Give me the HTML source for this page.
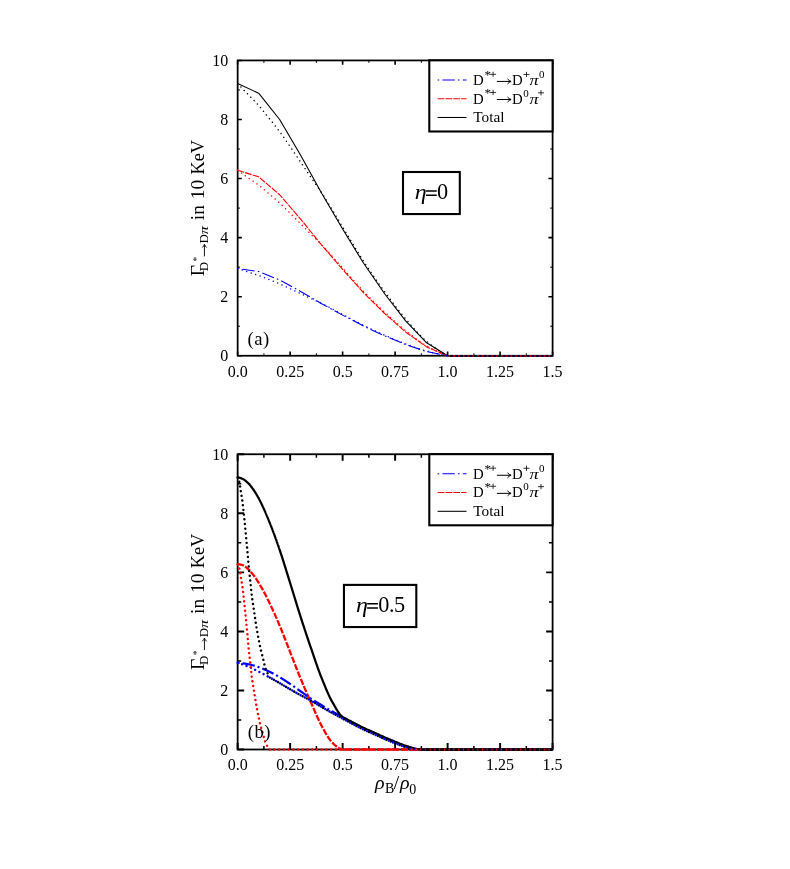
<!DOCTYPE html>
<html><head><meta charset="utf-8"><title>Decay widths</title>
<style>html,body{margin:0;padding:0;background:#fff;}svg{display:block;}text{font-family:'Liberation Serif', serif;fill:#000;}</style></head><body>
<div style="will-change:transform;width:790px;height:869px">
<svg width="790" height="869" viewBox="0 0 790 869">
<rect width="790" height="869" fill="#fff"/>
<path d="M237.65,355.75 v-4.2 M237.65,60.43 v4.2 M290.14,355.75 v-4.2 M290.14,60.43 v4.2 M342.63,355.75 v-4.2 M342.63,60.43 v4.2 M395.12,355.75 v-4.2 M395.12,60.43 v4.2 M447.62,355.75 v-4.2 M447.62,60.43 v4.2 M500.11,355.75 v-4.2 M500.11,60.43 v4.2 M552.6,355.75 v-4.2 M552.6,60.43 v4.2 M237.65,355.75 h4.2 M552.6,355.75 h-4.2 M237.65,296.69 h4.2 M552.6,296.69 h-4.2 M237.65,237.62 h4.2 M552.6,237.62 h-4.2 M237.65,178.56 h4.2 M552.6,178.56 h-4.2 M237.65,119.49 h4.2 M552.6,119.49 h-4.2 M237.65,60.43 h4.2 M552.6,60.43 h-4.2" stroke="#000" stroke-width="1.6" fill="none"/>
<path d="M263.9,355.75 v-2.4 M263.9,60.43 v2.4 M316.39,355.75 v-2.4 M316.39,60.43 v2.4 M368.88,355.75 v-2.4 M368.88,60.43 v2.4 M421.37,355.75 v-2.4 M421.37,60.43 v2.4 M473.86,355.75 v-2.4 M473.86,60.43 v2.4 M526.35,355.75 v-2.4 M526.35,60.43 v2.4 M237.65,326.22 h2.4 M552.6,326.22 h-2.4 M237.65,267.15 h2.4 M552.6,267.15 h-2.4 M237.65,208.09 h2.4 M552.6,208.09 h-2.4 M237.65,149.03 h2.4 M552.6,149.03 h-2.4 M237.65,89.96 h2.4 M552.6,89.96 h-2.4" stroke="#000" stroke-width="1.0" fill="none"/>
<rect x="237.65" y="60.43" width="314.95" height="295.32" fill="none" stroke="#000" stroke-width="1.75"/>
<g fill="none" stroke-width="1.1" stroke-linejoin="round">
<path d="M237.65,170.29 L258.65,176.83 L279.64,194.74 L300.64,219.09 L321.64,245.06 L342.63,269.41 L363.63,292.76 L384.63,313.49 L405.62,332 L426.62,346.89 L447.62,355.75 L552.6,355.75" stroke="#f00" stroke-dasharray="6.75 1.1"/>
<path d="M237.65,268.48 L258.65,271.55 L279.64,279.98 L300.64,291.44 L321.64,303.66 L342.63,315.12 L363.63,326.11 L384.63,335.86 L405.62,344.57 L426.62,351.58 L447.62,355.75 L552.6,355.75" stroke="#00f" stroke-dasharray="1.6 3.2 12.4 3.2"/>
<path d="M237.65,83.61 L258.65,93.21 L279.64,119.49 L300.64,155.23 L321.64,193.32 L342.63,229.06 L363.63,263.31 L384.63,293.73 L405.62,320.9 L426.62,342.76 L447.62,355.75 L552.6,355.75" stroke="#000"/>
<path d="M237.65,83.61 L238.18,84.16 L238.7,84.71 L239.23,85.26 L239.75,85.8 L240.28,86.35 L240.81,86.9 L241.33,87.45 L241.86,87.99 L242.39,88.54 L242.91,89.09 L243.44,89.64 L243.96,90.19 L244.49,90.73 L245.02,91.28 L245.54,91.83 L246.07,92.38 L246.6,92.92 L247.12,93.47 L247.65,94.02 L248.17,94.57 L248.7,95.11 L249.23,95.65 L249.75,96.19 L250.28,96.73 L250.81,97.26 L251.33,97.8 L251.86,98.33 L252.38,98.86 L252.91,99.4 L253.44,99.93 L253.96,100.47 L254.49,101.01 L255.02,101.56 L255.54,102.11 L256.07,102.66 L256.59,103.22 L257.12,103.78 L257.65,104.36 L258.17,104.94 L258.7,105.53 L259.23,106.12 L259.75,106.73 L260.28,107.34 L260.8,107.96 L261.33,108.59 L261.86,109.23 L262.38,109.87 L262.91,110.51 L263.44,111.16 L263.96,111.81 L264.49,112.47 L265.01,113.13 L265.54,113.79 L266.07,114.45 L266.59,115.11 L267.12,115.78 L267.65,116.44 L268.17,117.1 L268.7,117.76 L269.22,118.41 L269.75,119.06 L270.28,119.72 L270.8,120.37 L271.33,121.02 L271.86,121.67 L272.38,122.32 L272.91,122.97 L273.43,123.63 L273.96,124.28 L274.49,124.94 L275.01,125.6 L275.54,126.26 L276.06,126.93 L276.59,127.6 L277.12,128.28 L277.64,128.96 L278.17,129.65 L278.7,130.34 L279.22,131.04 L279.75,131.74 L280.27,132.46 L280.8,133.18 L281.33,133.91 L281.85,134.64 L282.38,135.39 L282.91,136.13 L283.43,136.89 L283.96,137.64 L284.48,138.4 L285.01,139.17 L285.54,139.94 L286.06,140.7 L286.59,141.47 L287.12,142.25 L287.64,143.02 L288.17,143.79 L288.69,144.56 L289.22,145.32 L289.75,146.09 L290.27,146.85 L290.8,147.62 L291.33,148.38 L291.85,149.14 L292.38,149.91 L292.9,150.68 L293.43,151.44 L293.96,152.21 L294.48,152.98 L295.01,153.75 L295.54,154.52 L296.06,155.29 L296.59,156.06 L297.11,156.83 L297.64,157.6 L298.17,158.38 L298.69,159.15 L299.22,159.92 L299.75,160.7 L300.27,161.48 L300.8,162.25 L301.32,163.03 L301.85,163.81 L302.38,164.6 L302.9,165.38 L303.43,166.17 L303.96,166.96 L304.48,167.75 L305.01,168.54 L305.53,169.33 L306.06,170.12 L306.59,170.91 L307.11,171.7 L307.64,172.49 L308.17,173.27 L308.69,174.06 L309.22,174.84 L309.74,175.62 L310.27,176.4 L310.8,177.17 L311.32,177.94 L311.85,178.7 L312.37,179.46 L312.9,180.21 L313.43,180.96 L313.95,181.71 L314.48,182.45 L315.01,183.19 L315.53,183.93 L316.06,184.67 L316.58,185.41 L317.11,186.15 L317.64,186.9 L318.16,187.65 L318.69,188.4 L319.22,189.16 L319.74,189.92 L320.27,190.69 L320.79,191.47 L321.32,192.26 L321.85,193.05 L322.37,193.86 L322.9,194.66 L323.43,195.48 L323.95,196.3 L324.48,197.12 L325,197.95 L325.53,198.79 L326.06,199.63 L326.58,200.47 L327.11,201.32 L327.64,202.17 L328.16,203.02 L328.69,203.88 L329.21,204.74 L329.74,205.6 L330.27,206.47 L330.79,207.34 L331.32,208.21 L331.85,209.08 L332.37,209.95 L332.9,210.83 L333.42,211.7 L333.95,212.58 L334.48,213.46 L335,214.34 L335.53,215.22 L336.06,216.09 L336.58,216.97 L337.11,217.85 L337.63,218.73 L338.16,219.61 L338.69,220.48 L339.21,221.36 L339.74,222.23 L340.27,223.1 L340.79,223.97 L341.32,224.84 L341.84,225.7 L342.37,226.56 L342.9,227.42 L343.42,228.28 L343.95,229.14 L344.48,230.01 L345,230.88 L345.53,231.75 L346.05,232.62 L346.58,233.49 L347.11,234.36 L347.63,235.23 L348.16,236.11 L348.69,236.98 L349.21,237.86 L349.74,238.74 L350.26,239.61 L350.79,240.49 L351.32,241.36 L351.84,242.24 L352.37,243.11 L352.89,243.98 L353.42,244.85 L353.95,245.72 L354.47,246.59 L355,247.46 L355.53,248.32 L356.05,249.18 L356.58,250.04 L357.1,250.9 L357.63,251.76 L358.16,252.61 L358.68,253.46 L359.21,254.3 L359.74,255.14 L360.26,255.98 L360.79,256.82 L361.31,257.65 L361.84,258.47 L362.37,259.3 L362.89,260.11 L363.42,260.92 L363.95,261.73 L364.47,262.54 L365,263.34 L365.52,264.14 L366.05,264.94 L366.58,265.73 L367.1,266.53 L367.63,267.32 L368.16,268.11 L368.68,268.89 L369.21,269.68 L369.73,270.46 L370.26,271.24 L370.79,272.01 L371.31,272.79 L371.84,273.56 L372.37,274.33 L372.89,275.1 L373.42,275.87 L373.94,276.63 L374.47,277.39 L375,278.15 L375.52,278.91 L376.05,279.66 L376.58,280.42 L377.1,281.17 L377.63,281.91 L378.15,282.66 L378.68,283.4 L379.21,284.15 L379.73,284.89 L380.26,285.62 L380.79,286.36 L381.31,287.09 L381.84,287.82 L382.36,288.55 L382.89,289.28 L383.42,290.01 L383.94,290.73 L384.47,291.45 L385,292.17 L385.52,292.89 L386.05,293.61 L386.57,294.32 L387.1,295.04 L387.63,295.75 L388.15,296.47 L388.68,297.18 L389.2,297.89 L389.73,298.6 L390.26,299.31 L390.78,300.01 L391.31,300.72 L391.84,301.42 L392.36,302.12 L392.89,302.82 L393.41,303.52 L393.94,304.21 L394.47,304.9 L394.99,305.59 L395.52,306.28 L396.05,306.96 L396.57,307.65 L397.1,308.32 L397.62,309 L398.15,309.67 L398.68,310.34 L399.2,311.01 L399.73,311.67 L400.26,312.33 L400.78,312.99 L401.31,313.64 L401.83,314.29 L402.36,314.93 L402.89,315.57 L403.41,316.21 L403.94,316.84 L404.47,317.47 L404.99,318.09 L405.52,318.71 L406.04,319.33 L406.57,319.94 L407.1,320.56 L407.62,321.18 L408.15,321.8 L408.68,322.41 L409.2,323.03 L409.73,323.64 L410.25,324.26 L410.78,324.87 L411.31,325.48 L411.83,326.08 L412.36,326.69 L412.89,327.29 L413.41,327.89 L413.94,328.49 L414.46,329.08 L414.99,329.67 L415.52,330.26 L416.04,330.84 L416.57,331.42 L417.1,331.99 L417.62,332.56 L418.15,333.13 L418.67,333.68 L419.2,334.24 L419.73,334.78 L420.25,335.32 L420.78,335.86 L421.31,336.38 L421.83,336.91 L422.36,337.42 L422.88,337.92 L423.41,338.42 L423.94,338.91 L424.46,339.39 L424.99,339.87 L425.51,340.33 L426.04,340.79 L426.57,341.24 L427.09,341.68 L427.62,342.11 L428.15,342.55 L428.67,342.98 L429.2,343.4 L429.72,343.83 L430.25,344.25 L430.78,344.67 L431.3,345.08 L431.83,345.49 L432.36,345.9 L432.88,346.3 L433.41,346.7 L433.93,347.1 L434.46,347.49 L434.99,347.88 L435.51,348.26 L436.04,348.64 L436.57,349.01 L437.09,349.39 L437.62,349.75 L438.14,350.11 L438.67,350.47 L439.2,350.82 L439.72,351.17 L440.25,351.51 L440.78,351.85 L441.3,352.18 L441.83,352.51 L442.35,352.83 L442.88,353.15 L443.41,353.46 L443.93,353.77 L444.46,354.07 L444.99,354.36 L445.51,354.65 L446.04,354.93 L446.56,355.21 L447.09,355.48 L447.62,355.75" stroke="#000" stroke-dasharray="0.01 4.72" stroke-linecap="round" stroke-width="1.45"/>
<path d="M237.65,268.48 L238.18,268.65 L238.7,268.83 L239.23,269 L239.75,269.18 L240.28,269.35 L240.81,269.53 L241.33,269.71 L241.86,269.88 L242.39,270.06 L242.91,270.23 L243.44,270.41 L243.96,270.58 L244.49,270.76 L245.02,270.93 L245.54,271.11 L246.07,271.29 L246.6,271.46 L247.12,271.64 L247.65,271.81 L248.17,271.99 L248.7,272.16 L249.23,272.34 L249.75,272.51 L250.28,272.68 L250.81,272.85 L251.33,273.02 L251.86,273.2 L252.38,273.37 L252.91,273.54 L253.44,273.71 L253.96,273.88 L254.49,274.06 L255.02,274.23 L255.54,274.41 L256.07,274.58 L256.59,274.76 L257.12,274.94 L257.65,275.13 L258.17,275.31 L258.7,275.5 L259.23,275.69 L259.75,275.89 L260.28,276.09 L260.8,276.29 L261.33,276.49 L261.86,276.69 L262.38,276.9 L262.91,277.1 L263.44,277.31 L263.96,277.52 L264.49,277.73 L265.01,277.94 L265.54,278.15 L266.07,278.37 L266.59,278.58 L267.12,278.79 L267.65,279 L268.17,279.21 L268.7,279.43 L269.22,279.64 L269.75,279.85 L270.28,280.05 L270.8,280.26 L271.33,280.47 L271.86,280.68 L272.38,280.89 L272.91,281.1 L273.43,281.31 L273.96,281.52 L274.49,281.73 L275.01,281.94 L275.54,282.15 L276.06,282.37 L276.59,282.58 L277.12,282.8 L277.64,283.02 L278.17,283.24 L278.7,283.46 L279.22,283.68 L279.75,283.91 L280.27,284.14 L280.8,284.37 L281.33,284.61 L281.85,284.84 L282.38,285.08 L282.91,285.32 L283.43,285.56 L283.96,285.8 L284.48,286.05 L285.01,286.29 L285.54,286.54 L286.06,286.78 L286.59,287.03 L287.12,287.28 L287.64,287.53 L288.17,287.77 L288.69,288.02 L289.22,288.27 L289.75,288.51 L290.27,288.76 L290.8,289 L291.33,289.25 L291.85,289.49 L292.38,289.74 L292.9,289.98 L293.43,290.23 L293.96,290.47 L294.48,290.72 L295.01,290.97 L295.54,291.21 L296.06,291.46 L296.59,291.71 L297.11,291.96 L297.64,292.2 L298.17,292.45 L298.69,292.7 L299.22,292.95 L299.75,293.2 L300.27,293.45 L300.8,293.7 L301.32,293.95 L301.85,294.2 L302.38,294.45 L302.9,294.7 L303.43,294.95 L303.96,295.21 L304.48,295.46 L305.01,295.71 L305.53,295.97 L306.06,296.22 L306.59,296.47 L307.11,296.73 L307.64,296.98 L308.17,297.23 L308.69,297.48 L309.22,297.73 L309.74,297.98 L310.27,298.23 L310.8,298.48 L311.32,298.73 L311.85,298.97 L312.37,299.21 L312.9,299.46 L313.43,299.7 L313.95,299.93 L314.48,300.17 L315.01,300.41 L315.53,300.65 L316.06,300.88 L316.58,301.12 L317.11,301.36 L317.64,301.6 L318.16,301.84 L318.69,302.08 L319.22,302.32 L319.74,302.57 L320.27,302.82 L320.79,303.07 L321.32,303.32 L321.85,303.57 L322.37,303.83 L322.9,304.09 L323.43,304.35 L323.95,304.61 L324.48,304.88 L325,305.14 L325.53,305.41 L326.06,305.68 L326.58,305.95 L327.11,306.22 L327.64,306.5 L328.16,306.77 L328.69,307.04 L329.21,307.32 L329.74,307.6 L330.27,307.88 L330.79,308.15 L331.32,308.43 L331.85,308.71 L332.37,308.99 L332.9,309.27 L333.42,309.55 L333.95,309.84 L334.48,310.12 L335,310.4 L335.53,310.68 L336.06,310.96 L336.58,311.24 L337.11,311.53 L337.63,311.81 L338.16,312.09 L338.69,312.37 L339.21,312.65 L339.74,312.93 L340.27,313.21 L340.79,313.49 L341.32,313.77 L341.84,314.04 L342.37,314.32 L342.9,314.59 L343.42,314.87 L343.95,315.15 L344.48,315.43 L345,315.7 L345.53,315.98 L346.05,316.26 L346.58,316.54 L347.11,316.82 L347.63,317.1 L348.16,317.38 L348.69,317.66 L349.21,317.94 L349.74,318.22 L350.26,318.5 L350.79,318.78 L351.32,319.07 L351.84,319.35 L352.37,319.63 L352.89,319.91 L353.42,320.19 L353.95,320.46 L354.47,320.74 L355,321.02 L355.53,321.3 L356.05,321.57 L356.58,321.85 L357.1,322.13 L357.63,322.4 L358.16,322.67 L358.68,322.94 L359.21,323.22 L359.74,323.49 L360.26,323.75 L360.79,324.02 L361.31,324.29 L361.84,324.55 L362.37,324.82 L362.89,325.08 L363.42,325.34 L363.95,325.6 L364.47,325.86 L365,326.11 L365.52,326.37 L366.05,326.63 L366.58,326.88 L367.1,327.14 L367.63,327.39 L368.16,327.64 L368.68,327.89 L369.21,328.15 L369.73,328.4 L370.26,328.65 L370.79,328.9 L371.31,329.14 L371.84,329.39 L372.37,329.64 L372.89,329.89 L373.42,330.13 L373.94,330.38 L374.47,330.62 L375,330.86 L375.52,331.11 L376.05,331.35 L376.58,331.59 L377.1,331.83 L377.63,332.07 L378.15,332.31 L378.68,332.55 L379.21,332.79 L379.73,333.02 L380.26,333.26 L380.79,333.5 L381.31,333.73 L381.84,333.97 L382.36,334.2 L382.89,334.43 L383.42,334.67 L383.94,334.9 L384.47,335.13 L385,335.36 L385.52,335.59 L386.05,335.82 L386.57,336.05 L387.1,336.28 L387.63,336.51 L388.15,336.74 L388.68,336.97 L389.2,337.19 L389.73,337.42 L390.26,337.65 L390.78,337.88 L391.31,338.1 L391.84,338.33 L392.36,338.55 L392.89,338.78 L393.41,339 L393.94,339.22 L394.47,339.44 L394.99,339.66 L395.52,339.89 L396.05,340.1 L396.57,340.32 L397.1,340.54 L397.62,340.76 L398.15,340.97 L398.68,341.19 L399.2,341.4 L399.73,341.61 L400.26,341.83 L400.78,342.04 L401.31,342.24 L401.83,342.45 L402.36,342.66 L402.89,342.86 L403.41,343.07 L403.94,343.27 L404.47,343.47 L404.99,343.67 L405.52,343.87 L406.04,344.07 L406.57,344.27 L407.1,344.47 L407.62,344.66 L408.15,344.86 L408.68,345.06 L409.2,345.26 L409.73,345.45 L410.25,345.65 L410.78,345.85 L411.31,346.04 L411.83,346.24 L412.36,346.43 L412.89,346.62 L413.41,346.82 L413.94,347.01 L414.46,347.2 L414.99,347.39 L415.52,347.58 L416.04,347.76 L416.57,347.95 L417.1,348.13 L417.62,348.31 L418.15,348.49 L418.67,348.67 L419.2,348.85 L419.73,349.03 L420.25,349.2 L420.78,349.37 L421.31,349.54 L421.83,349.71 L422.36,349.87 L422.88,350.03 L423.41,350.19 L423.94,350.35 L424.46,350.5 L424.99,350.66 L425.51,350.81 L426.04,350.95 L426.57,351.1 L427.09,351.24 L427.62,351.38 L428.15,351.52 L428.67,351.65 L429.2,351.79 L429.72,351.93 L430.25,352.06 L430.78,352.2 L431.3,352.33 L431.83,352.46 L432.36,352.59 L432.88,352.72 L433.41,352.85 L433.93,352.98 L434.46,353.1 L434.99,353.23 L435.51,353.35 L436.04,353.47 L436.57,353.59 L437.09,353.71 L437.62,353.83 L438.14,353.94 L438.67,354.06 L439.2,354.17 L439.72,354.28 L440.25,354.39 L440.78,354.5 L441.3,354.61 L441.83,354.71 L442.35,354.81 L442.88,354.92 L443.41,355.02 L443.93,355.11 L444.46,355.21 L444.99,355.3 L445.51,355.4 L446.04,355.49 L446.56,355.58 L447.09,355.66 L447.62,355.75" stroke="#00f" stroke-dasharray="0.01 4.72" stroke-linecap="round" stroke-width="1.45"/>
<path d="M237.65,170.29 L238.18,170.66 L238.7,171.03 L239.23,171.41 L239.75,171.78 L240.28,172.15 L240.81,172.53 L241.33,172.9 L241.86,173.27 L242.39,173.65 L242.91,174.02 L243.44,174.39 L243.96,174.77 L244.49,175.14 L245.02,175.51 L245.54,175.89 L246.07,176.26 L246.6,176.63 L247.12,177.01 L247.65,177.38 L248.17,177.75 L248.7,178.13 L249.23,178.49 L249.75,178.86 L250.28,179.23 L250.81,179.59 L251.33,179.95 L251.86,180.32 L252.38,180.68 L252.91,181.05 L253.44,181.41 L253.96,181.78 L254.49,182.15 L255.02,182.52 L255.54,182.89 L256.07,183.27 L256.59,183.65 L257.12,184.04 L257.65,184.43 L258.17,184.82 L258.7,185.22 L259.23,185.63 L259.75,186.04 L260.28,186.46 L260.8,186.88 L261.33,187.31 L261.86,187.74 L262.38,188.18 L262.91,188.62 L263.44,189.06 L263.96,189.51 L264.49,189.95 L265.01,190.4 L265.54,190.85 L266.07,191.3 L266.59,191.76 L267.12,192.21 L267.65,192.66 L268.17,193.11 L268.7,193.56 L269.22,194 L269.75,194.45 L270.28,194.89 L270.8,195.34 L271.33,195.78 L271.86,196.22 L272.38,196.67 L272.91,197.11 L273.43,197.56 L273.96,198.01 L274.49,198.45 L275.01,198.9 L275.54,199.36 L276.06,199.81 L276.59,200.27 L277.12,200.73 L277.64,201.19 L278.17,201.66 L278.7,202.13 L279.22,202.61 L279.75,203.09 L280.27,203.58 L280.8,204.07 L281.33,204.56 L281.85,205.07 L282.38,205.57 L282.91,206.08 L283.43,206.59 L283.96,207.11 L284.48,207.63 L285.01,208.15 L285.54,208.67 L286.06,209.2 L286.59,209.72 L287.12,210.25 L287.64,210.77 L288.17,211.3 L288.69,211.82 L289.22,212.35 L289.75,212.87 L290.27,213.39 L290.8,213.91 L291.33,214.43 L291.85,214.95 L292.38,215.47 L292.9,215.99 L293.43,216.51 L293.96,217.04 L294.48,217.56 L295.01,218.08 L295.54,218.61 L296.06,219.13 L296.59,219.66 L297.11,220.19 L297.64,220.71 L298.17,221.24 L298.69,221.77 L299.22,222.29 L299.75,222.82 L300.27,223.35 L300.8,223.88 L301.32,224.41 L301.85,224.95 L302.38,225.48 L302.9,226.02 L303.43,226.55 L303.96,227.09 L304.48,227.63 L305.01,228.17 L305.53,228.71 L306.06,229.24 L306.59,229.78 L307.11,230.32 L307.64,230.86 L308.17,231.39 L308.69,231.93 L309.22,232.46 L309.74,232.99 L310.27,233.52 L310.8,234.05 L311.32,234.57 L311.85,235.09 L312.37,235.61 L312.9,236.12 L313.43,236.63 L313.95,237.14 L314.48,237.65 L315.01,238.15 L315.53,238.65 L316.06,239.16 L316.58,239.66 L317.11,240.17 L317.64,240.68 L318.16,241.19 L318.69,241.7 L319.22,242.22 L319.74,242.74 L320.27,243.26 L320.79,243.79 L321.32,244.33 L321.85,244.87 L322.37,245.42 L322.9,245.97 L323.43,246.53 L323.95,247.08 L324.48,247.65 L325,248.21 L325.53,248.78 L326.06,249.35 L326.58,249.93 L327.11,250.5 L327.64,251.08 L328.16,251.67 L328.69,252.25 L329.21,252.84 L329.74,253.42 L330.27,254.01 L330.79,254.61 L331.32,255.2 L331.85,255.79 L332.37,256.39 L332.9,256.98 L333.42,257.58 L333.95,258.18 L334.48,258.78 L335,259.38 L335.53,259.98 L336.06,260.57 L336.58,261.17 L337.11,261.77 L337.63,262.37 L338.16,262.97 L338.69,263.56 L339.21,264.16 L339.74,264.76 L340.27,265.35 L340.79,265.94 L341.32,266.53 L341.84,267.12 L342.37,267.71 L342.9,268.29 L343.42,268.88 L343.95,269.47 L344.48,270.06 L345,270.65 L345.53,271.24 L346.05,271.83 L346.58,272.43 L347.11,273.02 L347.63,273.62 L348.16,274.21 L348.69,274.81 L349.21,275.41 L349.74,276 L350.26,276.6 L350.79,277.2 L351.32,277.79 L351.84,278.39 L352.37,278.98 L352.89,279.58 L353.42,280.17 L353.95,280.77 L354.47,281.36 L355,281.95 L355.53,282.54 L356.05,283.13 L356.58,283.71 L357.1,284.3 L357.63,284.88 L358.16,285.46 L358.68,286.04 L359.21,286.61 L359.74,287.19 L360.26,287.76 L360.79,288.33 L361.31,288.89 L361.84,289.46 L362.37,290.02 L362.89,290.57 L363.42,291.13 L363.95,291.68 L364.47,292.23 L365,292.77 L365.52,293.32 L366.05,293.86 L366.58,294.4 L367.1,294.94 L367.63,295.48 L368.16,296.02 L368.68,296.56 L369.21,297.09 L369.73,297.62 L370.26,298.15 L370.79,298.68 L371.31,299.21 L371.84,299.74 L372.37,300.26 L372.89,300.79 L373.42,301.31 L373.94,301.83 L374.47,302.35 L375,302.87 L375.52,303.38 L376.05,303.9 L376.58,304.41 L377.1,304.92 L377.63,305.43 L378.15,305.94 L378.68,306.45 L379.21,306.95 L379.73,307.46 L380.26,307.96 L380.79,308.46 L381.31,308.96 L381.84,309.46 L382.36,309.96 L382.89,310.45 L383.42,310.95 L383.94,311.44 L384.47,311.93 L385,312.42 L385.52,312.91 L386.05,313.4 L386.57,313.89 L387.1,314.37 L387.63,314.86 L388.15,315.35 L388.68,315.83 L389.2,316.32 L389.73,316.8 L390.26,317.28 L390.78,317.77 L391.31,318.25 L391.84,318.73 L392.36,319.2 L392.89,319.68 L393.41,320.15 L393.94,320.63 L394.47,321.1 L394.99,321.57 L395.52,322.04 L396.05,322.5 L396.57,322.97 L397.1,323.43 L397.62,323.89 L398.15,324.35 L398.68,324.8 L399.2,325.26 L399.73,325.71 L400.26,326.16 L400.78,326.61 L401.31,327.05 L401.83,327.49 L402.36,327.93 L402.89,328.37 L403.41,328.8 L403.94,329.23 L404.47,329.66 L404.99,330.09 L405.52,330.51 L406.04,330.93 L406.57,331.35 L407.1,331.77 L407.62,332.19 L408.15,332.61 L408.68,333.03 L409.2,333.45 L409.73,333.87 L410.25,334.29 L410.78,334.7 L411.31,335.12 L411.83,335.53 L412.36,335.95 L412.89,336.36 L413.41,336.77 L413.94,337.17 L414.46,337.58 L414.99,337.98 L415.52,338.38 L416.04,338.78 L416.57,339.17 L417.1,339.56 L417.62,339.95 L418.15,340.33 L418.67,340.71 L419.2,341.09 L419.73,341.46 L420.25,341.83 L420.78,342.19 L421.31,342.55 L421.83,342.91 L422.36,343.26 L422.88,343.6 L423.41,343.94 L423.94,344.28 L424.46,344.6 L424.99,344.93 L425.51,345.24 L426.04,345.55 L426.57,345.86 L427.09,346.16 L427.62,346.46 L428.15,346.75 L428.67,347.05 L429.2,347.34 L429.72,347.63 L430.25,347.91 L430.78,348.2 L431.3,348.48 L431.83,348.76 L432.36,349.04 L432.88,349.31 L433.41,349.58 L433.93,349.85 L434.46,350.12 L434.99,350.38 L435.51,350.65 L436.04,350.9 L436.57,351.16 L437.09,351.41 L437.62,351.66 L438.14,351.91 L438.67,352.15 L439.2,352.39 L439.72,352.63 L440.25,352.86 L440.78,353.09 L441.3,353.32 L441.83,353.54 L442.35,353.76 L442.88,353.98 L443.41,354.19 L443.93,354.4 L444.46,354.6 L444.99,354.8 L445.51,355 L446.04,355.19 L446.56,355.38 L447.09,355.57 L447.62,355.75" stroke="#f00" stroke-dasharray="0.01 4.72" stroke-linecap="round" stroke-width="1.45"/>
</g>
<path d="M448.62,355.75 H552.6" stroke="#000038" stroke-width="1.75" fill="none"/>
<path d="M447.62,355.75 H551.7" stroke="#cc0000" stroke-width="1.75" stroke-dasharray="1.6 3.155" stroke-dashoffset="-0.98" fill="none"/>
<rect x="429.3" y="60.33" width="123.3" height="71.15" fill="#fff" stroke="#000" stroke-width="2.1"/>
<path d="M437.6,79.98 H466.5" stroke="#00f" stroke-width="1.05" stroke-dasharray="1.6 3.2 12.4 3.2" fill="none"/>
<path d="M437.6,98.73 H466.5" stroke="#f00" stroke-width="1.05" stroke-dasharray="6.75 1.1" fill="none"/>
<path d="M437.6,117.48 H466.5" stroke="#000" stroke-width="1.05" fill="none"/>
<text x="473" y="85.43" font-size="14.8">D</text>
<text x="484.5" y="78.83" font-size="13">*</text>
<path d="M490.1,74.33 h6 M493.1,71.73 v5.2" fill="none" stroke="#000" stroke-width="0.8"/>
<path d="M496.9,81.43 H510.8 M507.5,78.93 Q509.12,80.81 511.1,81.43 Q509.12,82.06 507.5,83.93" fill="none" stroke="#000" stroke-width="1.0" stroke-linecap="butt" stroke-linejoin="miter"/>
<text x="512" y="85.43" font-size="14.8">D</text>
<path d="M523.5,74.43 h6 M526.5,71.83 v5.2" fill="none" stroke="#000" stroke-width="0.8"/>
<text transform="translate(529.5,85.43) scale(1.3,1)" font-size="14.0" font-style="italic">π</text>
<text x="538.9" y="78.43" font-size="11.0">0</text>
<text x="473" y="103.53" font-size="14.8">D</text>
<text x="484.5" y="96.93" font-size="13">*</text>
<path d="M490.1,92.43 h6 M493.1,89.83 v5.2" fill="none" stroke="#000" stroke-width="0.8"/>
<path d="M496.9,99.53 H510.8 M507.5,97.03 Q509.12,98.91 511.1,99.53 Q509.12,100.16 507.5,102.03" fill="none" stroke="#000" stroke-width="1.0" stroke-linecap="butt" stroke-linejoin="miter"/>
<text x="512" y="103.53" font-size="14.8">D</text>
<text x="523.2" y="96.53" font-size="11.0">0</text>
<text transform="translate(529.5,103.53) scale(1.3,1)" font-size="14.0" font-style="italic">π</text>
<path d="M538,92.83 h6 M541,90.23 v5.2" fill="none" stroke="#000" stroke-width="0.8"/>
<text x="473.3" y="122.43" font-size="14.8" textLength="31.2" lengthAdjust="spacingAndGlyphs">Total</text>
<rect x="403" y="172" width="56.8" height="42.05" fill="#fff" stroke="#000" stroke-width="2.1"/>
<text transform="translate(414.8,199.1) scale(1.2,1)" font-size="20" font-style="italic">η</text>
<path d="M425.95,190.9 h10.8 M425.95,195.2 h10.8" stroke="#000" stroke-width="1.5" fill="none"/>
<text x="437.1" y="199.1" font-size="22.3">0</text>
<text x="247.6" y="344.8" font-size="18.7" letter-spacing="0.4">(a)</text>
<g transform="translate(204.1,276.15) rotate(-90)">
<text x="0" y="0" font-size="19.5">Γ</text>
<text x="5.0" y="3.5" font-size="13">D</text>
<text x="14.6" y="-3.9" font-size="9.5">*</text>
<path d="M19.8,0.35 H31.5 M28.6,-1.85 Q30.04,-0.2 31.8,0.35 Q30.04,0.9 28.6,2.55" fill="none" stroke="#000" stroke-width="0.9" stroke-linecap="butt" stroke-linejoin="miter"/>
<text x="32.6" y="3.5" font-size="13">D</text>
<text transform="translate(42.0,3.5) scale(1.25,1)" font-size="13" font-style="italic">π</text>
<text x="55.9" y="0" font-size="19.5">in</text>
<text x="76.9" y="0" font-size="19.5">10</text>
<text x="101.7" y="0" font-size="19.5" textLength="34.5" lengthAdjust="spacingAndGlyphs">KeV</text>
</g>
<text x="237.65" y="376.65" font-size="16.0" text-anchor="middle">0.0</text>
<text x="290.14" y="376.65" font-size="16.0" text-anchor="middle">0.25</text>
<text x="342.63" y="376.65" font-size="16.0" text-anchor="middle">0.5</text>
<text x="395.12" y="376.65" font-size="16.0" text-anchor="middle">0.75</text>
<text x="447.62" y="376.65" font-size="16.0" text-anchor="middle">1.0</text>
<text x="500.11" y="376.65" font-size="16.0" text-anchor="middle">1.25</text>
<text x="552.6" y="376.65" font-size="16.0" text-anchor="middle">1.5</text>
<text x="228.35" y="361.25" font-size="16.0" text-anchor="end">0</text>
<text x="228.35" y="302.19" font-size="16.0" text-anchor="end">2</text>
<text x="228.35" y="243.12" font-size="16.0" text-anchor="end">4</text>
<text x="228.35" y="184.06" font-size="16.0" text-anchor="end">6</text>
<text x="228.35" y="124.99" font-size="16.0" text-anchor="end">8</text>
<text x="228.35" y="65.93" font-size="16.0" text-anchor="end">10</text>
<path d="M237.65,749.5 v-6.5 M237.65,454.25 v6.5 M290.14,749.5 v-6.5 M290.14,454.25 v6.5 M342.63,749.5 v-6.5 M342.63,454.25 v6.5 M395.12,749.5 v-6.5 M395.12,454.25 v6.5 M447.62,749.5 v-6.5 M447.62,454.25 v6.5 M500.11,749.5 v-6.5 M500.11,454.25 v6.5 M552.6,749.5 v-6.5 M552.6,454.25 v6.5 M237.65,749.5 h6.5 M552.6,749.5 h-6.5 M237.65,690.45 h6.5 M552.6,690.45 h-6.5 M237.65,631.4 h6.5 M552.6,631.4 h-6.5 M237.65,572.35 h6.5 M552.6,572.35 h-6.5 M237.65,513.3 h6.5 M552.6,513.3 h-6.5 M237.65,454.25 h6.5 M552.6,454.25 h-6.5" stroke="#000" stroke-width="1.95" fill="none"/>
<path d="M263.9,749.5 v-3.6 M263.9,454.25 v3.6 M316.39,749.5 v-3.6 M316.39,454.25 v3.6 M368.88,749.5 v-3.6 M368.88,454.25 v3.6 M421.37,749.5 v-3.6 M421.37,454.25 v3.6 M473.86,749.5 v-3.6 M473.86,454.25 v3.6 M526.35,749.5 v-3.6 M526.35,454.25 v3.6 M237.65,719.98 h3.6 M552.6,719.98 h-3.6 M237.65,660.92 h3.6 M552.6,660.92 h-3.6 M237.65,601.88 h3.6 M552.6,601.88 h-3.6 M237.65,542.83 h3.6 M552.6,542.83 h-3.6 M237.65,483.78 h3.6 M552.6,483.78 h-3.6" stroke="#000" stroke-width="1.5" fill="none"/>
<rect x="237.65" y="454.25" width="314.95" height="295.25" fill="none" stroke="#000" stroke-width="1.8"/>
<g fill="none" stroke-width="2.25" stroke-linejoin="round">
<path d="M237.65,564.23 L237.76,564.23 L237.86,564.23 L237.97,564.24 L238.07,564.24 L238.18,564.24 L238.28,564.25 L238.39,564.26 L238.49,564.27 L238.6,564.28 L238.7,564.29 L238.81,564.3 L238.91,564.31 L239.02,564.32 L239.12,564.34 L239.23,564.35 L239.33,564.37 L239.44,564.38 L239.54,564.4 L239.65,564.42 L239.75,564.44 L239.86,564.46 L239.97,564.48 L240.07,564.5 L240.18,564.52 L240.28,564.55 L240.39,564.57 L240.49,564.59 L240.6,564.62 L240.7,564.64 L240.81,564.67 L240.91,564.69 L241.02,564.72 L241.12,564.75 L241.23,564.78 L241.33,564.8 L241.44,564.83 L241.54,564.86 L241.65,564.89 L241.75,564.92 L241.86,564.95 L241.97,564.98 L242.07,565.01 L242.18,565.04 L242.28,565.08 L242.39,565.11 L242.49,565.14 L242.6,565.17 L242.7,565.2 L242.81,565.24 L242.91,565.27 L243.02,565.3 L243.12,565.34 L243.23,565.38 L243.33,565.42 L243.44,565.47 L243.54,565.52 L243.65,565.57 L243.75,565.62 L243.86,565.67 L243.96,565.73 L244.07,565.79 L244.18,565.85 L244.28,565.92 L244.39,565.98 L244.49,566.05 L244.6,566.12 L244.7,566.19 L244.81,566.26 L244.91,566.34 L245.02,566.42 L245.12,566.49 L245.23,566.57 L245.33,566.66 L245.44,566.74 L245.54,566.82 L245.65,566.91 L245.75,566.99 L245.86,567.08 L245.96,567.17 L246.07,567.26 L246.17,567.35 L246.28,567.44 L246.39,567.53 L246.49,567.62 L246.6,567.71 L246.7,567.8 L246.81,567.9 L246.91,567.99 L247.02,568.09 L247.12,568.18 L247.23,568.28 L247.33,568.37 L247.44,568.47 L247.54,568.56 L247.65,568.66 L247.75,568.75 L247.86,568.84 L247.96,568.94 L248.07,569.03 L248.17,569.13 L248.28,569.22 L248.39,569.32 L248.49,569.41 L248.6,569.51 L248.7,569.61 L248.81,569.71 L248.91,569.81 L249.02,569.92 L249.12,570.02 L249.23,570.13 L249.33,570.23 L249.44,570.34 L249.54,570.45 L249.65,570.56 L249.75,570.67 L249.86,570.79 L249.96,570.9 L250.07,571.01 L250.17,571.13 L250.28,571.24 L250.38,571.36 L250.49,571.48 L250.6,571.6 L250.7,571.72 L250.81,571.84 L250.91,571.96 L251.02,572.08 L251.12,572.21 L251.23,572.33 L251.33,572.45 L251.44,572.58 L251.54,572.71 L251.65,572.83 L251.75,572.96 L251.86,573.09 L251.96,573.22 L252.07,573.34 L252.17,573.47 L252.28,573.6 L252.38,573.73 L252.49,573.86 L252.59,574 L252.7,574.13 L252.81,574.26 L252.91,574.39 L253.02,574.52 L253.12,574.66 L253.23,574.79 L253.33,574.92 L253.44,575.06 L253.54,575.19 L253.65,575.33 L253.75,575.46 L253.86,575.6 L253.96,575.74 L254.07,575.88 L254.17,576.02 L254.28,576.16 L254.38,576.31 L254.49,576.45 L254.59,576.59 L254.7,576.74 L254.81,576.89 L254.91,577.03 L255.02,577.18 L255.12,577.33 L255.23,577.48 L255.33,577.63 L255.44,577.78 L255.54,577.93 L255.65,578.09 L255.75,578.24 L255.86,578.39 L255.96,578.55 L256.07,578.7 L256.17,578.86 L256.28,579.02 L256.38,579.17 L256.49,579.33 L256.59,579.49 L256.7,579.65 L256.8,579.81 L256.91,579.97 L257.02,580.13 L257.12,580.29 L257.23,580.46 L257.33,580.62 L257.44,580.78 L257.54,580.94 L257.65,581.11 L257.75,581.27 L257.86,581.44 L257.96,581.6 L258.07,581.77 L258.17,581.93 L258.28,582.1 L258.38,582.27 L258.49,582.43 L258.59,582.6 L258.7,582.77 L258.8,582.94 L258.91,583.1 L259.02,583.27 L259.12,583.45 L259.23,583.62 L259.33,583.79 L259.44,583.96 L259.54,584.14 L259.65,584.31 L259.75,584.49 L259.86,584.66 L259.96,584.84 L260.07,585.02 L260.17,585.19 L260.28,585.37 L260.38,585.55 L260.49,585.73 L260.59,585.91 L260.7,586.09 L260.8,586.28 L260.91,586.46 L261.01,586.64 L261.12,586.83 L261.23,587.01 L261.33,587.19 L261.44,587.38 L261.54,587.57 L261.65,587.75 L261.75,587.94 L261.86,588.13 L261.96,588.31 L262.07,588.5 L262.17,588.69 L262.28,588.88 L262.38,589.07 L262.49,589.26 L262.59,589.45 L262.7,589.64 L262.8,589.83 L262.91,590.02 L263.01,590.22 L263.12,590.41 L263.22,590.6 L263.33,590.79 L263.44,590.99 L263.54,591.18 L263.65,591.37 L263.75,591.57 L263.86,591.76 L263.96,591.96 L264.07,592.15 L264.17,592.35 L264.28,592.55 L264.38,592.74 L264.49,592.94 L264.59,593.14 L264.7,593.34 L264.8,593.54 L264.91,593.74 L265.01,593.94 L265.12,594.14 L265.22,594.34 L265.33,594.55 L265.44,594.75 L265.54,594.95 L265.65,595.16 L265.75,595.36 L265.86,595.57 L265.96,595.77 L266.07,595.98 L266.17,596.18 L266.28,596.39 L266.38,596.6 L266.49,596.81 L266.59,597.02 L266.7,597.22 L266.8,597.43 L266.91,597.64 L267.01,597.85 L267.12,598.06 L267.22,598.27 L267.33,598.48 L267.43,598.7 L267.54,598.91 L267.65,599.12 L267.75,599.33 L267.86,599.54 L267.96,599.76 L268.07,599.97 L268.17,600.18 L268.28,600.4 L268.38,600.61 L268.49,600.83 L268.59,601.04 L268.7,601.26 L268.8,601.47 L268.91,601.69 L269.01,601.9 L269.12,602.12 L269.22,602.33 L269.33,602.55 L269.43,602.76 L269.54,602.98 L269.64,603.2 L269.75,603.42 L269.86,603.64 L269.96,603.85 L270.07,604.07 L270.17,604.29 L270.28,604.51 L270.38,604.73 L270.49,604.95 L270.59,605.17 L270.7,605.39 L270.8,605.62 L270.91,605.84 L271.01,606.06 L271.12,606.28 L271.22,606.51 L271.33,606.73 L271.43,606.95 L271.54,607.18 L271.64,607.4 L271.75,607.63 L271.86,607.85 L271.96,608.08 L272.07,608.3 L272.17,608.53 L272.28,608.76 L272.38,608.98 L272.49,609.21 L272.59,609.44 L272.7,609.67 L272.8,609.9 L272.91,610.12 L273.01,610.35 L273.12,610.58 L273.22,610.81 L273.33,611.04 L273.43,611.27 L273.54,611.5 L273.64,611.73 L273.75,611.97 L273.85,612.2 L273.96,612.43 L274.07,612.66 L274.17,612.89 L274.28,613.13 L274.38,613.36 L274.49,613.59 L274.59,613.83 L274.7,614.06 L274.8,614.3 L274.91,614.53 L275.01,614.77 L275.12,615 L275.22,615.24 L275.33,615.48 L275.43,615.71 L275.54,615.95 L275.64,616.19 L275.75,616.42 L275.85,616.66 L275.96,616.9 L276.06,617.14 L276.17,617.38 L276.28,617.62 L276.38,617.86 L276.49,618.1 L276.59,618.34 L276.7,618.58 L276.8,618.82 L276.91,619.07 L277.01,619.31 L277.12,619.55 L277.22,619.79 L277.33,620.04 L277.43,620.28 L277.54,620.52 L277.64,620.77 L277.75,621.01 L277.85,621.26 L277.96,621.51 L278.06,621.75 L278.17,622 L278.28,622.25 L278.38,622.49 L278.49,622.74 L278.59,622.99 L278.7,623.24 L278.8,623.49 L278.91,623.74 L279.01,623.99 L279.12,624.24 L279.22,624.49 L279.33,624.74 L279.43,624.99 L279.54,625.24 L279.64,625.5 L279.98,626.31 L280.32,627.12 L280.65,627.94 L280.99,628.77 L281.33,629.6 L281.66,630.44 L282,631.27 L282.34,632.12 L282.67,632.96 L283.01,633.81 L283.35,634.67 L283.68,635.52 L284.02,636.38 L284.36,637.24 L284.69,638.1 L285.03,638.96 L285.37,639.83 L285.7,640.69 L286.04,641.56 L286.38,642.42 L286.71,643.29 L287.05,644.16 L287.39,645.02 L287.72,645.89 L288.06,646.75 L288.4,647.62 L288.73,648.48 L289.07,649.34 L289.41,650.2 L289.74,651.05 L290.08,651.91 L290.42,652.76 L290.75,653.62 L291.09,654.47 L291.43,655.33 L291.76,656.19 L292.1,657.05 L292.43,657.92 L292.77,658.78 L293.11,659.65 L293.44,660.51 L293.78,661.38 L294.12,662.24 L294.45,663.11 L294.79,663.97 L295.13,664.83 L295.46,665.7 L295.8,666.56 L296.14,667.42 L296.47,668.27 L296.81,669.13 L297.15,669.98 L297.48,670.83 L297.82,671.68 L298.16,672.53 L298.49,673.37 L298.83,674.21 L299.17,675.04 L299.5,675.87 L299.84,676.7 L300.18,677.52 L300.51,678.33 L300.85,679.15 L301.19,679.96 L301.52,680.76 L301.86,681.56 L302.2,682.36 L302.53,683.16 L302.87,683.95 L303.21,684.74 L303.54,685.53 L303.88,686.32 L304.22,687.1 L304.55,687.88 L304.89,688.66 L305.23,689.44 L305.56,690.21 L305.9,690.99 L306.24,691.76 L306.57,692.53 L306.91,693.29 L307.25,694.06 L307.58,694.83 L307.92,695.59 L308.26,696.35 L308.59,697.11 L308.93,697.87 L309.27,698.63 L309.6,699.39 L309.94,700.15 L310.28,700.91 L310.61,701.67 L310.95,702.42 L311.29,703.18 L311.62,703.94 L311.96,704.71 L312.3,705.48 L312.63,706.25 L312.97,707.03 L313.31,707.81 L313.64,708.59 L313.98,709.37 L314.32,710.15 L314.65,710.92 L314.99,711.7 L315.33,712.48 L315.66,713.25 L316,714.02 L316.33,714.79 L316.67,715.55 L317.01,716.31 L317.34,717.06 L317.68,717.81 L318.02,718.55 L318.35,719.28 L318.69,720 L319.03,720.71 L319.36,721.42 L319.7,722.11 L320.04,722.8 L320.37,723.47 L320.71,724.13 L321.05,724.78 L321.38,725.41 L321.72,726.03 L322.06,726.65 L322.39,727.27 L322.73,727.89 L323.07,728.5 L323.4,729.12 L323.74,729.73 L324.08,730.34 L324.41,730.94 L324.75,731.54 L325.09,732.14 L325.42,732.73 L325.76,733.31 L326.1,733.89 L326.43,734.46 L326.77,735.02 L327.11,735.57 L327.44,736.12 L327.78,736.65 L328.12,737.17 L328.45,737.69 L328.79,738.19 L329.13,738.68 L329.46,739.15 L329.8,739.62 L330.14,740.07 L330.47,740.5 L330.81,740.92 L331.15,741.33 L331.48,741.71 L331.82,742.08 L332.16,742.44 L332.49,742.78 L332.83,743.12 L333.17,743.45 L333.5,743.79 L333.84,744.11 L334.18,744.43 L334.51,744.75 L334.85,745.06 L335.19,745.36 L335.52,745.66 L335.86,745.95 L336.2,746.23 L336.53,746.5 L336.87,746.76 L337.21,747.02 L337.54,747.26 L337.88,747.49 L338.22,747.71 L338.55,747.92 L338.89,748.12 L339.23,748.31 L339.56,748.48 L339.9,748.64 L340.23,748.79 L340.57,748.92 L340.91,749.04 L341.24,749.16 L341.58,749.26 L341.92,749.34 L342.25,749.42 L342.59,749.49 L342.93,749.5 L343.26,749.5 L343.6,749.5 L343.94,749.5 L344.27,749.5 L344.61,749.5 L344.95,749.5 L345.28,749.5 L345.62,749.5 L345.96,749.5 L346.29,749.5 L346.63,749.5 L346.97,749.5 L347.3,749.5 L347.64,749.5 L347.98,749.5 L348.31,749.5 L348.65,749.5 L348.99,749.5 L349.32,749.5 L349.66,749.5 L350,749.5 L350.33,749.5 L350.67,749.5 L351.01,749.5 L351.34,749.5 L351.68,749.5 L352.02,749.5 L352.35,749.5 L352.69,749.5 L353.03,749.5 L353.36,749.5 L353.7,749.5 L354.04,749.5 L354.37,749.5 L354.71,749.5 L355.05,749.5 L355.38,749.5 L355.72,749.5 L356.06,749.5 L356.39,749.5 L356.73,749.5 L357.07,749.5 L357.4,749.5 L357.74,749.5 L358.08,749.5 L358.41,749.5 L358.75,749.5 L359.09,749.5 L359.42,749.5 L359.76,749.5 L360.1,749.5 L360.43,749.5 L360.77,749.5 L361.11,749.5 L361.44,749.5 L361.78,749.5 L362.12,749.5 L362.45,749.5 L362.79,749.5 L363.13,749.5 L363.46,749.5 L363.8,749.5 L364.13,749.5 L364.47,749.5 L364.81,749.5 L365.14,749.5 L365.48,749.5 L365.82,749.5 L366.15,749.5 L366.49,749.5 L366.83,749.5 L367.16,749.5 L367.5,749.5 L367.84,749.5 L368.17,749.5 L368.51,749.5 L368.85,749.5 L369.18,749.5 L369.52,749.5 L369.86,749.5 L370.19,749.5 L370.53,749.5 L370.87,749.5 L371.2,749.5 L371.54,749.5 L371.88,749.5 L372.21,749.5 L372.55,749.5 L372.89,749.5 L373.22,749.5 L373.56,749.5 L373.9,749.5 L374.23,749.5 L374.57,749.5 L374.91,749.5 L375.24,749.5 L375.58,749.5 L375.92,749.5 L376.25,749.5 L376.59,749.5 L376.93,749.5 L377.26,749.5 L377.6,749.5 L377.94,749.5 L378.27,749.5 L378.61,749.5 L378.95,749.5 L379.28,749.5 L379.62,749.5 L379.96,749.5 L380.29,749.5 L380.63,749.5 L380.97,749.5 L381.3,749.5 L381.64,749.5 L381.98,749.5 L382.31,749.5 L382.65,749.5 L382.99,749.5 L383.32,749.5 L383.66,749.5 L384,749.5 L384.33,749.5 L384.67,749.5 L385.01,749.5 L385.34,749.5 L385.68,749.5 L386.02,749.5 L386.35,749.5 L386.69,749.5 L387.03,749.5 L387.36,749.5 L387.7,749.5 L388.03,749.5 L388.37,749.5 L388.71,749.5 L389.04,749.5 L389.38,749.5 L389.72,749.5 L390.05,749.5 L390.39,749.5 L390.73,749.5 L391.06,749.5 L391.4,749.5 L391.74,749.5 L392.07,749.5 L392.41,749.5 L392.75,749.5 L393.08,749.5 L393.42,749.5 L393.76,749.5 L394.09,749.5 L394.43,749.5 L394.77,749.5 L395.1,749.5 L395.44,749.5 L395.78,749.5 L396.11,749.5 L396.45,749.5 L396.79,749.5 L397.12,749.5 L397.46,749.5 L397.8,749.5 L398.13,749.5 L398.47,749.5 L398.81,749.5 L399.14,749.5 L399.48,749.5 L399.82,749.5 L400.15,749.5 L400.49,749.5 L400.83,749.5 L401.16,749.5 L401.5,749.5 L401.84,749.5 L402.17,749.5 L402.51,749.5 L402.85,749.5 L403.18,749.5 L403.52,749.5 L403.86,749.5 L404.19,749.5 L404.53,749.5 L404.87,749.5 L405.2,749.5 L405.54,749.5 L405.88,749.5 L406.21,749.5 L406.55,749.5 L406.89,749.5 L407.22,749.5 L407.56,749.5 L407.9,749.5 L408.23,749.5 L408.57,749.5 L408.91,749.5 L409.24,749.5 L409.58,749.5 L409.92,749.5 L410.25,749.5 L410.59,749.5 L410.93,749.5 L411.26,749.5 L411.6,749.5 L411.93,749.5 L412.27,749.5 L412.61,749.5 L412.94,749.5 L413.28,749.5 L413.62,749.5 L413.95,749.5 L414.29,749.5 L414.63,749.5 L414.96,749.5 L415.3,749.5 L415.64,749.5 L415.97,749.5 L416.31,749.5 L416.65,749.5 L416.98,749.5 L417.32,749.5 L417.66,749.5 L417.99,749.5 L418.33,749.5 L418.67,749.5 L419,749.5 L419.34,749.5 L419.68,749.5 L420.01,749.5 L420.35,749.5 L420.69,749.5 L421.02,749.5 L421.36,749.5 L421.7,749.5 L422.03,749.5 L422.37,749.5 L422.71,749.5 L423.04,749.5 L423.38,749.5 L423.72,749.5 L424.05,749.5 L424.39,749.5 L424.73,749.5 L425.06,749.5 L425.4,749.5 L425.74,749.5 L426.07,749.5 L426.41,749.5 L426.75,749.5 L427.08,749.5 L427.42,749.5 L427.76,749.5 L428.09,749.5 L428.43,749.5 L428.77,749.5 L429.1,749.5 L429.44,749.5 L429.78,749.5 L430.11,749.5 L430.45,749.5 L430.79,749.5 L431.12,749.5 L431.46,749.5 L431.8,749.5 L432.13,749.5 L432.47,749.5 L432.81,749.5 L433.14,749.5 L433.48,749.5 L433.82,749.5 L434.15,749.5 L434.49,749.5 L434.83,749.5 L435.16,749.5 L435.5,749.5 L435.83,749.5 L436.17,749.5 L436.51,749.5 L436.84,749.5 L437.18,749.5 L437.52,749.5 L437.85,749.5 L438.19,749.5 L438.53,749.5 L438.86,749.5 L439.2,749.5 L439.54,749.5 L439.87,749.5 L440.21,749.5 L440.55,749.5 L440.88,749.5 L441.22,749.5 L441.56,749.5 L441.89,749.5 L442.23,749.5 L442.57,749.5 L442.9,749.5 L443.24,749.5 L443.58,749.5 L443.91,749.5 L444.25,749.5 L444.59,749.5 L444.92,749.5 L445.26,749.5 L445.6,749.5 L445.93,749.5 L446.27,749.5 L446.61,749.5 L446.94,749.5 L447.28,749.5 L447.62,749.5 L552.6,749.5" stroke="#f00" stroke-width="2.3" stroke-dasharray="6.35 1.55"/>
<path d="M237.65,662.7 L237.76,662.7 L237.86,662.71 L237.97,662.72 L238.07,662.73 L238.18,662.74 L238.28,662.74 L238.39,662.75 L238.49,662.76 L238.6,662.77 L238.7,662.78 L238.81,662.79 L238.91,662.8 L239.02,662.81 L239.12,662.82 L239.23,662.83 L239.33,662.84 L239.44,662.85 L239.54,662.86 L239.65,662.87 L239.75,662.88 L239.86,662.89 L239.97,662.9 L240.07,662.92 L240.18,662.93 L240.28,662.94 L240.39,662.95 L240.49,662.96 L240.6,662.98 L240.7,662.99 L240.81,663 L240.91,663.01 L241.02,663.03 L241.12,663.04 L241.23,663.05 L241.33,663.07 L241.44,663.08 L241.54,663.09 L241.65,663.11 L241.75,663.12 L241.86,663.13 L241.97,663.15 L242.07,663.16 L242.18,663.18 L242.28,663.19 L242.39,663.21 L242.49,663.22 L242.6,663.24 L242.7,663.25 L242.81,663.27 L242.91,663.28 L243.02,663.3 L243.12,663.31 L243.23,663.33 L243.33,663.35 L243.44,663.36 L243.54,663.38 L243.65,663.39 L243.75,663.41 L243.86,663.43 L243.96,663.44 L244.07,663.46 L244.18,663.48 L244.28,663.49 L244.39,663.51 L244.49,663.53 L244.6,663.54 L244.7,663.56 L244.81,663.58 L244.91,663.6 L245.02,663.61 L245.12,663.63 L245.23,663.65 L245.33,663.67 L245.44,663.69 L245.54,663.7 L245.65,663.72 L245.75,663.74 L245.86,663.76 L245.96,663.78 L246.07,663.79 L246.17,663.81 L246.28,663.83 L246.39,663.85 L246.49,663.87 L246.6,663.89 L246.7,663.91 L246.81,663.93 L246.91,663.94 L247.02,663.96 L247.12,663.98 L247.23,664 L247.33,664.02 L247.44,664.04 L247.54,664.06 L247.65,664.08 L247.75,664.1 L247.86,664.12 L247.96,664.14 L248.07,664.16 L248.17,664.18 L248.28,664.2 L248.39,664.22 L248.49,664.24 L248.6,664.26 L248.7,664.28 L248.81,664.3 L248.91,664.32 L249.02,664.34 L249.12,664.37 L249.23,664.39 L249.33,664.41 L249.44,664.43 L249.54,664.46 L249.65,664.48 L249.75,664.5 L249.86,664.53 L249.96,664.55 L250.07,664.58 L250.17,664.6 L250.28,664.63 L250.38,664.65 L250.49,664.68 L250.6,664.7 L250.7,664.73 L250.81,664.75 L250.91,664.78 L251.02,664.81 L251.12,664.83 L251.23,664.86 L251.33,664.89 L251.44,664.91 L251.54,664.94 L251.65,664.97 L251.75,665 L251.86,665.02 L251.96,665.05 L252.07,665.08 L252.17,665.11 L252.28,665.14 L252.38,665.17 L252.49,665.19 L252.59,665.22 L252.7,665.25 L252.81,665.28 L252.91,665.31 L253.02,665.34 L253.12,665.37 L253.23,665.4 L253.33,665.43 L253.44,665.46 L253.54,665.49 L253.65,665.53 L253.75,665.56 L253.86,665.59 L253.96,665.62 L254.07,665.65 L254.17,665.68 L254.28,665.71 L254.38,665.75 L254.49,665.78 L254.59,665.81 L254.7,665.84 L254.81,665.87 L254.91,665.91 L255.02,665.94 L255.12,665.97 L255.23,666.01 L255.33,666.04 L255.44,666.07 L255.54,666.1 L255.65,666.14 L255.75,666.17 L255.86,666.21 L255.96,666.24 L256.07,666.27 L256.17,666.31 L256.28,666.34 L256.38,666.37 L256.49,666.41 L256.59,666.44 L256.7,666.48 L256.8,666.51 L256.91,666.55 L257.02,666.58 L257.12,666.62 L257.23,666.65 L257.33,666.69 L257.44,666.72 L257.54,666.75 L257.65,666.79 L257.75,666.83 L257.86,666.86 L257.96,666.9 L258.07,666.93 L258.17,666.97 L258.28,667 L258.38,667.04 L258.49,667.07 L258.59,667.11 L258.7,667.14 L258.8,667.18 L258.91,667.21 L259.02,667.25 L259.12,667.29 L259.23,667.32 L259.33,667.36 L259.44,667.4 L259.54,667.44 L259.65,667.47 L259.75,667.51 L259.86,667.55 L259.96,667.59 L260.07,667.63 L260.17,667.67 L260.28,667.7 L260.38,667.74 L260.49,667.78 L260.59,667.82 L260.7,667.86 L260.8,667.9 L260.91,667.94 L261.01,667.98 L261.12,668.02 L261.23,668.07 L261.33,668.11 L261.44,668.15 L261.54,668.19 L261.65,668.23 L261.75,668.27 L261.86,668.32 L261.96,668.36 L262.07,668.4 L262.17,668.44 L262.28,668.49 L262.38,668.53 L262.49,668.57 L262.59,668.61 L262.7,668.66 L262.8,668.7 L262.91,668.75 L263.01,668.79 L263.12,668.83 L263.22,668.88 L263.33,668.92 L263.44,668.97 L263.54,669.01 L263.65,669.06 L263.75,669.1 L263.86,669.15 L263.96,669.19 L264.07,669.24 L264.17,669.28 L264.28,669.33 L264.38,669.37 L264.49,669.42 L264.59,669.47 L264.7,669.51 L264.8,669.56 L264.91,669.61 L265.01,669.65 L265.12,669.7 L265.22,669.75 L265.33,669.79 L265.44,669.84 L265.54,669.89 L265.65,669.93 L265.75,669.98 L265.86,670.03 L265.96,670.08 L266.07,670.13 L266.17,670.17 L266.28,670.22 L266.38,670.27 L266.49,670.32 L266.59,670.37 L266.7,670.41 L266.8,670.46 L266.91,670.51 L267.01,670.56 L267.12,670.61 L267.22,670.66 L267.33,670.7 L267.43,670.75 L267.54,670.8 L267.65,670.85 L267.75,670.9 L267.86,670.95 L267.96,671 L268.07,671.05 L268.17,671.1 L268.28,671.15 L268.38,671.2 L268.49,671.24 L268.59,671.29 L268.7,671.34 L268.8,671.39 L268.91,671.44 L269.01,671.49 L269.12,671.54 L269.22,671.59 L269.33,671.64 L269.43,671.69 L269.54,671.74 L269.64,671.79 L269.75,671.84 L269.86,671.89 L269.96,671.94 L270.07,671.99 L270.17,672.05 L270.28,672.1 L270.38,672.15 L270.49,672.2 L270.59,672.25 L270.7,672.3 L270.8,672.35 L270.91,672.41 L271.01,672.46 L271.12,672.51 L271.22,672.56 L271.33,672.62 L271.43,672.67 L271.54,672.72 L271.64,672.78 L271.75,672.83 L271.86,672.88 L271.96,672.94 L272.07,672.99 L272.17,673.04 L272.28,673.1 L272.38,673.15 L272.49,673.21 L272.59,673.26 L272.7,673.31 L272.8,673.37 L272.91,673.42 L273.01,673.48 L273.12,673.53 L273.22,673.59 L273.33,673.64 L273.43,673.7 L273.54,673.75 L273.64,673.81 L273.75,673.87 L273.85,673.92 L273.96,673.98 L274.07,674.03 L274.17,674.09 L274.28,674.15 L274.38,674.2 L274.49,674.26 L274.59,674.32 L274.7,674.37 L274.8,674.43 L274.91,674.49 L275.01,674.54 L275.12,674.6 L275.22,674.66 L275.33,674.72 L275.43,674.77 L275.54,674.83 L275.64,674.89 L275.75,674.95 L275.85,675.01 L275.96,675.06 L276.06,675.12 L276.17,675.18 L276.28,675.24 L276.38,675.3 L276.49,675.36 L276.59,675.42 L276.7,675.47 L276.8,675.53 L276.91,675.59 L277.01,675.65 L277.12,675.71 L277.22,675.77 L277.33,675.83 L277.43,675.89 L277.54,675.95 L277.64,676.01 L277.75,676.07 L277.85,676.13 L277.96,676.19 L278.06,676.25 L278.17,676.31 L278.28,676.37 L278.38,676.43 L278.49,676.49 L278.59,676.55 L278.7,676.61 L278.8,676.67 L278.91,676.73 L279.01,676.8 L279.12,676.86 L279.22,676.92 L279.33,676.98 L279.43,677.04 L279.54,677.1 L279.64,677.16 L279.98,677.36 L280.32,677.56 L280.65,677.76 L280.99,677.97 L281.33,678.17 L281.66,678.38 L282,678.59 L282.34,678.8 L282.67,679.01 L283.01,679.23 L283.35,679.44 L283.68,679.66 L284.02,679.87 L284.36,680.09 L284.69,680.31 L285.03,680.53 L285.37,680.75 L285.7,680.98 L286.04,681.2 L286.38,681.42 L286.71,681.65 L287.05,681.87 L287.39,682.1 L287.72,682.32 L288.06,682.55 L288.4,682.78 L288.73,683 L289.07,683.23 L289.41,683.46 L289.74,683.69 L290.08,683.91 L290.42,684.14 L290.75,684.37 L291.09,684.6 L291.43,684.83 L291.76,685.06 L292.1,685.29 L292.43,685.53 L292.77,685.76 L293.11,686 L293.44,686.23 L293.78,686.47 L294.12,686.71 L294.45,686.94 L294.79,687.18 L295.13,687.42 L295.46,687.66 L295.8,687.9 L296.14,688.14 L296.47,688.38 L296.81,688.62 L297.15,688.86 L297.48,689.1 L297.82,689.34 L298.16,689.58 L298.49,689.82 L298.83,690.06 L299.17,690.3 L299.5,690.53 L299.84,690.77 L300.18,691.01 L300.51,691.25 L300.85,691.48 L301.19,691.72 L301.52,691.96 L301.86,692.2 L302.2,692.44 L302.53,692.68 L302.87,692.92 L303.21,693.16 L303.54,693.4 L303.88,693.64 L304.22,693.89 L304.55,694.13 L304.89,694.37 L305.23,694.61 L305.56,694.85 L305.9,695.09 L306.24,695.33 L306.57,695.57 L306.91,695.81 L307.25,696.05 L307.58,696.29 L307.92,696.52 L308.26,696.76 L308.59,696.99 L308.93,697.23 L309.27,697.46 L309.6,697.69 L309.94,697.92 L310.28,698.14 L310.61,698.37 L310.95,698.59 L311.29,698.81 L311.62,699.03 L311.96,699.25 L312.3,699.47 L312.63,699.69 L312.97,699.9 L313.31,700.12 L313.64,700.33 L313.98,700.54 L314.32,700.75 L314.65,700.96 L314.99,701.17 L315.33,701.38 L315.66,701.59 L316,701.8 L316.33,702 L316.67,702.21 L317.01,702.41 L317.34,702.62 L317.68,702.82 L318.02,703.03 L318.35,703.23 L318.69,703.44 L319.03,703.64 L319.36,703.84 L319.7,704.04 L320.04,704.25 L320.37,704.45 L320.71,704.65 L321.05,704.86 L321.38,705.06 L321.72,705.26 L322.06,705.47 L322.39,705.67 L322.73,705.87 L323.07,706.08 L323.4,706.28 L323.74,706.48 L324.08,706.69 L324.41,706.89 L324.75,707.09 L325.09,707.29 L325.42,707.5 L325.76,707.7 L326.1,707.9 L326.43,708.1 L326.77,708.3 L327.11,708.5 L327.44,708.7 L327.78,708.9 L328.12,709.1 L328.45,709.3 L328.79,709.49 L329.13,709.69 L329.46,709.89 L329.8,710.08 L330.14,710.28 L330.47,710.47 L330.81,710.66 L331.15,710.85 L331.48,711.05 L331.82,711.24 L332.16,711.42 L332.49,711.61 L332.83,711.8 L333.17,711.99 L333.5,712.17 L333.84,712.36 L334.18,712.54 L334.51,712.72 L334.85,712.9 L335.19,713.08 L335.52,713.26 L335.86,713.44 L336.2,713.62 L336.53,713.8 L336.87,713.98 L337.21,714.16 L337.54,714.34 L337.88,714.51 L338.22,714.69 L338.55,714.87 L338.89,715.04 L339.23,715.22 L339.56,715.4 L339.9,715.58 L340.23,715.75 L340.57,715.93 L340.91,716.11 L341.24,716.28 L341.58,716.46 L341.92,716.64 L342.25,716.82 L342.59,717 L342.93,717.18 L343.26,717.36 L343.6,717.54 L343.94,717.72 L344.27,717.9 L344.61,718.08 L344.95,718.26 L345.28,718.45 L345.62,718.63 L345.96,718.81 L346.29,718.99 L346.63,719.17 L346.97,719.35 L347.3,719.53 L347.64,719.72 L347.98,719.9 L348.31,720.08 L348.65,720.26 L348.99,720.44 L349.32,720.62 L349.66,720.8 L350,720.98 L350.33,721.16 L350.67,721.34 L351.01,721.52 L351.34,721.69 L351.68,721.87 L352.02,722.05 L352.35,722.23 L352.69,722.4 L353.03,722.58 L353.36,722.75 L353.7,722.93 L354.04,723.1 L354.37,723.28 L354.71,723.45 L355.05,723.63 L355.38,723.8 L355.72,723.98 L356.06,724.15 L356.39,724.33 L356.73,724.5 L357.07,724.67 L357.4,724.85 L357.74,725.02 L358.08,725.19 L358.41,725.36 L358.75,725.53 L359.09,725.71 L359.42,725.88 L359.76,726.05 L360.1,726.21 L360.43,726.38 L360.77,726.55 L361.11,726.72 L361.44,726.88 L361.78,727.05 L362.12,727.22 L362.45,727.38 L362.79,727.54 L363.13,727.71 L363.46,727.87 L363.8,728.03 L364.13,728.19 L364.47,728.34 L364.81,728.5 L365.14,728.66 L365.48,728.81 L365.82,728.97 L366.15,729.12 L366.49,729.27 L366.83,729.43 L367.16,729.58 L367.5,729.73 L367.84,729.88 L368.17,730.03 L368.51,730.18 L368.85,730.33 L369.18,730.48 L369.52,730.63 L369.86,730.78 L370.19,730.92 L370.53,731.07 L370.87,731.22 L371.2,731.37 L371.54,731.52 L371.88,731.67 L372.21,731.82 L372.55,731.97 L372.89,732.12 L373.22,732.27 L373.56,732.42 L373.9,732.57 L374.23,732.72 L374.57,732.87 L374.91,733.02 L375.24,733.17 L375.58,733.33 L375.92,733.48 L376.25,733.63 L376.59,733.78 L376.93,733.94 L377.26,734.09 L377.6,734.24 L377.94,734.4 L378.27,734.55 L378.61,734.7 L378.95,734.86 L379.28,735.01 L379.62,735.16 L379.96,735.31 L380.29,735.47 L380.63,735.62 L380.97,735.77 L381.3,735.92 L381.64,736.07 L381.98,736.22 L382.31,736.37 L382.65,736.52 L382.99,736.67 L383.32,736.82 L383.66,736.97 L384,737.12 L384.33,737.27 L384.67,737.41 L385.01,737.56 L385.34,737.71 L385.68,737.85 L386.02,738 L386.35,738.14 L386.69,738.29 L387.03,738.44 L387.36,738.58 L387.7,738.73 L388.03,738.87 L388.37,739.01 L388.71,739.16 L389.04,739.3 L389.38,739.45 L389.72,739.59 L390.05,739.73 L390.39,739.87 L390.73,740.02 L391.06,740.16 L391.4,740.3 L391.74,740.44 L392.07,740.58 L392.41,740.72 L392.75,740.86 L393.08,741 L393.42,741.13 L393.76,741.27 L394.09,741.41 L394.43,741.54 L394.77,741.68 L395.1,741.82 L395.44,741.95 L395.78,742.08 L396.11,742.22 L396.45,742.35 L396.79,742.49 L397.12,742.62 L397.46,742.76 L397.8,742.89 L398.13,743.03 L398.47,743.16 L398.81,743.29 L399.14,743.42 L399.48,743.56 L399.82,743.69 L400.15,743.82 L400.49,743.95 L400.83,744.08 L401.16,744.21 L401.5,744.34 L401.84,744.46 L402.17,744.59 L402.51,744.71 L402.85,744.84 L403.18,744.96 L403.52,745.08 L403.86,745.2 L404.19,745.32 L404.53,745.44 L404.87,745.55 L405.2,745.67 L405.54,745.78 L405.88,745.89 L406.21,746.01 L406.55,746.12 L406.89,746.23 L407.22,746.35 L407.56,746.46 L407.9,746.58 L408.23,746.69 L408.57,746.8 L408.91,746.92 L409.24,747.03 L409.58,747.14 L409.92,747.25 L410.25,747.36 L410.59,747.47 L410.93,747.57 L411.26,747.68 L411.6,747.78 L411.93,747.88 L412.27,747.98 L412.61,748.08 L412.94,748.17 L413.28,748.26 L413.62,748.35 L413.95,748.44 L414.29,748.52 L414.63,748.6 L414.96,748.68 L415.3,748.75 L415.64,748.82 L415.97,748.88 L416.31,748.94 L416.65,749 L416.98,749.06 L417.32,749.11 L417.66,749.17 L417.99,749.22 L418.33,749.26 L418.67,749.31 L419,749.35 L419.34,749.39 L419.68,749.43 L420.01,749.47 L420.35,749.5 L420.69,749.5 L421.02,749.5 L421.36,749.5 L421.7,749.5 L422.03,749.5 L422.37,749.5 L422.71,749.5 L423.04,749.5 L423.38,749.5 L423.72,749.5 L424.05,749.5 L424.39,749.5 L424.73,749.5 L425.06,749.5 L425.4,749.5 L425.74,749.5 L426.07,749.5 L426.41,749.5 L426.75,749.5 L427.08,749.5 L427.42,749.5 L427.76,749.5 L428.09,749.5 L428.43,749.5 L428.77,749.5 L429.1,749.5 L429.44,749.5 L429.78,749.5 L430.11,749.5 L430.45,749.5 L430.79,749.5 L431.12,749.5 L431.46,749.5 L431.8,749.5 L432.13,749.5 L432.47,749.5 L432.81,749.5 L433.14,749.5 L433.48,749.5 L433.82,749.5 L434.15,749.5 L434.49,749.5 L434.83,749.5 L435.16,749.5 L435.5,749.5 L435.83,749.5 L436.17,749.5 L436.51,749.5 L436.84,749.5 L437.18,749.5 L437.52,749.5 L437.85,749.5 L438.19,749.5 L438.53,749.5 L438.86,749.5 L439.2,749.5 L439.54,749.5 L439.87,749.5 L440.21,749.5 L440.55,749.5 L440.88,749.5 L441.22,749.5 L441.56,749.5 L441.89,749.5 L442.23,749.5 L442.57,749.5 L442.9,749.5 L443.24,749.5 L443.58,749.5 L443.91,749.5 L444.25,749.5 L444.59,749.5 L444.92,749.5 L445.26,749.5 L445.6,749.5 L445.93,749.5 L446.27,749.5 L446.61,749.5 L446.94,749.5 L447.28,749.5 L447.62,749.5 L552.6,749.5" stroke="#00f" stroke-width="2.2" stroke-dasharray="2.0 3.0 12.4 3.0"/>
<path d="M237.65,477.43 L237.76,477.44 L237.86,477.44 L237.97,477.46 L238.07,477.47 L238.18,477.48 L238.28,477.5 L238.39,477.51 L238.49,477.53 L238.6,477.55 L238.7,477.57 L238.81,477.59 L238.91,477.61 L239.02,477.63 L239.12,477.66 L239.23,477.68 L239.33,477.71 L239.44,477.73 L239.54,477.76 L239.65,477.79 L239.75,477.82 L239.86,477.85 L239.97,477.88 L240.07,477.92 L240.18,477.95 L240.28,477.98 L240.39,478.02 L240.49,478.06 L240.6,478.09 L240.7,478.13 L240.81,478.17 L240.91,478.21 L241.02,478.25 L241.12,478.29 L241.23,478.33 L241.33,478.37 L241.44,478.41 L241.54,478.45 L241.65,478.5 L241.75,478.54 L241.86,478.59 L241.97,478.63 L242.07,478.67 L242.18,478.72 L242.28,478.76 L242.39,478.81 L242.49,478.85 L242.6,478.9 L242.7,478.94 L242.81,478.98 L242.91,479.03 L243.02,479.07 L243.12,479.12 L243.23,479.17 L243.33,479.22 L243.44,479.28 L243.54,479.33 L243.65,479.39 L243.75,479.45 L243.86,479.52 L243.96,479.58 L244.07,479.65 L244.18,479.72 L244.28,479.79 L244.39,479.86 L244.49,479.94 L244.6,480.02 L244.7,480.09 L244.81,480.17 L244.91,480.25 L245.02,480.34 L245.12,480.42 L245.23,480.51 L245.33,480.59 L245.44,480.68 L245.54,480.77 L245.65,480.86 L245.75,480.95 L245.86,481.04 L245.96,481.14 L246.07,481.23 L246.17,481.33 L246.28,481.42 L246.39,481.52 L246.49,481.61 L246.6,481.71 L246.7,481.81 L246.81,481.91 L246.91,482.01 L247.02,482.1 L247.12,482.2 L247.23,482.3 L247.33,482.4 L247.44,482.5 L247.54,482.6 L247.65,482.7 L247.75,482.8 L247.86,482.9 L247.96,483 L248.07,483.1 L248.17,483.19 L248.28,483.29 L248.39,483.4 L248.49,483.5 L248.6,483.6 L248.7,483.71 L248.81,483.82 L248.91,483.92 L249.02,484.04 L249.12,484.15 L249.23,484.26 L249.33,484.38 L249.44,484.49 L249.54,484.61 L249.65,484.73 L249.75,484.85 L249.86,484.98 L249.96,485.1 L250.07,485.23 L250.17,485.35 L250.28,485.48 L250.38,485.61 L250.49,485.74 L250.6,485.87 L250.7,486 L250.81,486.14 L250.91,486.27 L251.02,486.41 L251.12,486.54 L251.23,486.68 L251.33,486.81 L251.44,486.95 L251.54,487.09 L251.65,487.23 L251.75,487.37 L251.86,487.51 L251.96,487.65 L252.07,487.79 L252.17,487.94 L252.28,488.08 L252.38,488.22 L252.49,488.37 L252.59,488.51 L252.7,488.66 L252.81,488.8 L252.91,488.95 L253.02,489.1 L253.12,489.24 L253.23,489.39 L253.33,489.54 L253.44,489.69 L253.54,489.84 L253.65,489.99 L253.75,490.14 L253.86,490.29 L253.96,490.44 L254.07,490.6 L254.17,490.76 L254.28,490.91 L254.38,491.07 L254.49,491.23 L254.59,491.39 L254.7,491.55 L254.81,491.72 L254.91,491.88 L255.02,492.04 L255.12,492.21 L255.23,492.38 L255.33,492.54 L255.44,492.71 L255.54,492.88 L255.65,493.05 L255.75,493.22 L255.86,493.39 L255.96,493.57 L256.07,493.74 L256.17,493.92 L256.28,494.09 L256.38,494.27 L256.49,494.45 L256.59,494.62 L256.7,494.8 L256.8,494.98 L256.91,495.16 L257.02,495.34 L257.12,495.53 L257.23,495.71 L257.33,495.89 L257.44,496.08 L257.54,496.26 L257.65,496.45 L257.75,496.63 L257.86,496.82 L257.96,497.01 L258.07,497.2 L258.17,497.39 L258.28,497.57 L258.38,497.76 L258.49,497.96 L258.59,498.15 L258.7,498.34 L258.8,498.53 L258.91,498.73 L259.02,498.92 L259.12,499.12 L259.23,499.31 L259.33,499.51 L259.44,499.71 L259.54,499.91 L259.65,500.11 L259.75,500.32 L259.86,500.52 L259.96,500.72 L260.07,500.93 L260.17,501.13 L260.28,501.34 L260.38,501.55 L260.49,501.76 L260.59,501.97 L260.7,502.18 L260.8,502.39 L260.91,502.6 L261.01,502.82 L261.12,503.03 L261.23,503.25 L261.33,503.46 L261.44,503.68 L261.54,503.89 L261.65,504.11 L261.75,504.33 L261.86,504.55 L261.96,504.77 L262.07,504.99 L262.17,505.21 L262.28,505.44 L262.38,505.66 L262.49,505.88 L262.59,506.11 L262.7,506.33 L262.8,506.56 L262.91,506.78 L263.01,507.01 L263.12,507.23 L263.22,507.46 L263.33,507.69 L263.44,507.92 L263.54,508.15 L263.65,508.38 L263.75,508.61 L263.86,508.84 L263.96,509.07 L264.07,509.3 L264.17,509.53 L264.28,509.77 L264.38,510 L264.49,510.24 L264.59,510.47 L264.7,510.71 L264.8,510.95 L264.91,511.19 L265.01,511.42 L265.12,511.66 L265.22,511.9 L265.33,512.15 L265.44,512.39 L265.54,512.63 L265.65,512.87 L265.75,513.12 L265.86,513.36 L265.96,513.61 L266.07,513.85 L266.17,514.1 L266.28,514.35 L266.38,514.59 L266.49,514.84 L266.59,515.09 L266.7,515.34 L266.8,515.59 L266.91,515.84 L267.01,516.09 L267.12,516.34 L267.22,516.6 L267.33,516.85 L267.43,517.1 L267.54,517.36 L267.65,517.61 L267.75,517.86 L267.86,518.12 L267.96,518.37 L268.07,518.63 L268.17,518.89 L268.28,519.14 L268.38,519.4 L268.49,519.66 L268.59,519.91 L268.7,520.17 L268.8,520.43 L268.91,520.69 L269.01,520.95 L269.12,521.21 L269.22,521.47 L269.33,521.73 L269.43,521.99 L269.54,522.25 L269.64,522.51 L269.75,522.77 L269.86,523.04 L269.96,523.3 L270.07,523.56 L270.17,523.83 L270.28,524.09 L270.38,524.36 L270.49,524.62 L270.59,524.89 L270.7,525.16 L270.8,525.43 L270.91,525.69 L271.01,525.96 L271.12,526.23 L271.22,526.5 L271.33,526.77 L271.43,527.04 L271.54,527.31 L271.64,527.59 L271.75,527.86 L271.86,528.13 L271.96,528.4 L272.07,528.68 L272.17,528.95 L272.28,529.23 L272.38,529.5 L272.49,529.78 L272.59,530.06 L272.7,530.33 L272.8,530.61 L272.91,530.89 L273.01,531.17 L273.12,531.45 L273.22,531.73 L273.33,532.01 L273.43,532.29 L273.54,532.57 L273.64,532.85 L273.75,533.13 L273.85,533.41 L273.96,533.7 L274.07,533.98 L274.17,534.26 L274.28,534.55 L274.38,534.83 L274.49,535.12 L274.59,535.4 L274.7,535.69 L274.8,535.98 L274.91,536.27 L275.01,536.55 L275.12,536.84 L275.22,537.13 L275.33,537.42 L275.43,537.71 L275.54,538 L275.64,538.29 L275.75,538.58 L275.85,538.88 L275.96,539.17 L276.06,539.46 L276.17,539.76 L276.28,540.05 L276.38,540.34 L276.49,540.64 L276.59,540.94 L276.7,541.23 L276.8,541.53 L276.91,541.83 L277.01,542.12 L277.12,542.42 L277.22,542.72 L277.33,543.02 L277.43,543.32 L277.54,543.62 L277.64,543.93 L277.75,544.23 L277.85,544.53 L277.96,544.83 L278.06,545.14 L278.17,545.44 L278.28,545.75 L278.38,546.05 L278.49,546.36 L278.59,546.66 L278.7,546.97 L278.8,547.28 L278.91,547.59 L279.01,547.9 L279.12,548.21 L279.22,548.52 L279.33,548.83 L279.43,549.14 L279.54,549.45 L279.64,549.76 L279.98,550.77 L280.32,551.78 L280.65,552.8 L280.99,553.82 L281.33,554.86 L281.66,555.9 L282,556.94 L282.34,557.99 L282.67,559.04 L283.01,560.1 L283.35,561.17 L283.68,562.23 L284.02,563.3 L284.36,564.38 L284.69,565.46 L285.03,566.54 L285.37,567.62 L285.7,568.7 L286.04,569.79 L286.38,570.87 L286.71,571.96 L287.05,573.05 L287.39,574.14 L287.72,575.23 L288.06,576.32 L288.4,577.4 L288.73,578.49 L289.07,579.57 L289.41,580.66 L289.74,581.74 L290.08,582.82 L290.42,583.89 L290.75,584.98 L291.09,586.06 L291.43,587.15 L291.76,588.24 L292.1,589.33 L292.43,590.43 L292.77,591.52 L293.11,592.62 L293.44,593.72 L293.78,594.82 L294.12,595.92 L294.45,597.02 L294.79,598.12 L295.13,599.22 L295.46,600.32 L295.8,601.42 L296.14,602.52 L296.47,603.62 L296.81,604.71 L297.15,605.8 L297.48,606.89 L297.82,607.98 L298.16,609.06 L298.49,610.14 L298.83,611.22 L299.17,612.29 L299.5,613.36 L299.84,614.43 L300.18,615.49 L300.51,616.54 L300.85,617.59 L301.19,618.63 L301.52,619.68 L301.86,620.72 L302.2,621.76 L302.53,622.8 L302.87,623.83 L303.21,624.86 L303.54,625.89 L303.88,626.92 L304.22,627.94 L304.55,628.97 L304.89,629.99 L305.23,631.01 L305.56,632.02 L305.9,633.04 L306.24,634.05 L306.57,635.06 L306.91,636.06 L307.25,637.07 L307.58,638.07 L307.92,639.07 L308.26,640.07 L308.59,641.06 L308.93,642.06 L309.27,643.05 L309.6,644.04 L309.94,645.03 L310.28,646.01 L310.61,646.99 L310.95,647.97 L311.29,648.95 L311.62,649.93 L311.96,650.92 L312.3,651.91 L312.63,652.9 L312.97,653.89 L313.31,654.88 L313.64,655.87 L313.98,656.86 L314.32,657.86 L314.65,658.85 L314.99,659.83 L315.33,660.82 L315.66,661.8 L316,662.78 L316.33,663.75 L316.67,664.72 L317.01,665.68 L317.34,666.64 L317.68,667.59 L318.02,668.53 L318.35,669.47 L318.69,670.39 L319.03,671.31 L319.36,672.22 L319.7,673.12 L320.04,674 L320.37,674.88 L320.71,675.74 L321.05,676.59 L321.38,677.43 L321.72,678.25 L322.06,679.08 L322.39,679.9 L322.73,680.73 L323.07,681.56 L323.4,682.39 L323.74,683.22 L324.08,684.04 L324.41,684.87 L324.75,685.69 L325.09,686.51 L325.42,687.33 L325.76,688.14 L326.1,688.95 L326.43,689.75 L326.77,690.54 L327.11,691.33 L327.44,692.1 L327.78,692.87 L328.12,693.63 L328.45,694.38 L328.79,695.12 L329.13,695.84 L329.46,696.55 L329.8,697.25 L330.14,697.94 L330.47,698.6 L330.81,699.26 L331.15,699.9 L331.48,700.52 L331.82,701.12 L332.16,701.71 L332.49,702.29 L332.83,702.87 L333.17,703.46 L333.5,704.05 L333.84,704.65 L334.18,705.25 L334.51,705.84 L334.85,706.44 L335.19,707.03 L335.52,707.61 L335.86,708.2 L336.2,708.77 L336.53,709.34 L336.87,709.9 L337.21,710.45 L337.54,710.99 L337.88,711.51 L338.22,712.03 L338.55,712.52 L338.89,713 L339.23,713.47 L339.56,713.91 L339.9,714.34 L340.23,714.74 L340.57,715.13 L340.91,715.49 L341.24,715.83 L341.58,716.16 L341.92,716.46 L342.25,716.74 L342.59,716.99 L342.93,717.18 L343.26,717.36 L343.6,717.54 L343.94,717.72 L344.27,717.9 L344.61,718.08 L344.95,718.26 L345.28,718.45 L345.62,718.63 L345.96,718.81 L346.29,718.99 L346.63,719.17 L346.97,719.35 L347.3,719.53 L347.64,719.72 L347.98,719.9 L348.31,720.08 L348.65,720.26 L348.99,720.44 L349.32,720.62 L349.66,720.8 L350,720.98 L350.33,721.16 L350.67,721.34 L351.01,721.52 L351.34,721.69 L351.68,721.87 L352.02,722.05 L352.35,722.23 L352.69,722.4 L353.03,722.58 L353.36,722.75 L353.7,722.93 L354.04,723.1 L354.37,723.28 L354.71,723.45 L355.05,723.63 L355.38,723.8 L355.72,723.98 L356.06,724.15 L356.39,724.33 L356.73,724.5 L357.07,724.67 L357.4,724.85 L357.74,725.02 L358.08,725.19 L358.41,725.36 L358.75,725.53 L359.09,725.71 L359.42,725.88 L359.76,726.05 L360.1,726.21 L360.43,726.38 L360.77,726.55 L361.11,726.72 L361.44,726.88 L361.78,727.05 L362.12,727.22 L362.45,727.38 L362.79,727.54 L363.13,727.71 L363.46,727.87 L363.8,728.03 L364.13,728.19 L364.47,728.34 L364.81,728.5 L365.14,728.66 L365.48,728.81 L365.82,728.97 L366.15,729.12 L366.49,729.27 L366.83,729.43 L367.16,729.58 L367.5,729.73 L367.84,729.88 L368.17,730.03 L368.51,730.18 L368.85,730.33 L369.18,730.48 L369.52,730.63 L369.86,730.78 L370.19,730.92 L370.53,731.07 L370.87,731.22 L371.2,731.37 L371.54,731.52 L371.88,731.67 L372.21,731.82 L372.55,731.97 L372.89,732.12 L373.22,732.27 L373.56,732.42 L373.9,732.57 L374.23,732.72 L374.57,732.87 L374.91,733.02 L375.24,733.17 L375.58,733.33 L375.92,733.48 L376.25,733.63 L376.59,733.78 L376.93,733.94 L377.26,734.09 L377.6,734.24 L377.94,734.4 L378.27,734.55 L378.61,734.7 L378.95,734.86 L379.28,735.01 L379.62,735.16 L379.96,735.31 L380.29,735.47 L380.63,735.62 L380.97,735.77 L381.3,735.92 L381.64,736.07 L381.98,736.22 L382.31,736.37 L382.65,736.52 L382.99,736.67 L383.32,736.82 L383.66,736.97 L384,737.12 L384.33,737.27 L384.67,737.41 L385.01,737.56 L385.34,737.71 L385.68,737.85 L386.02,738 L386.35,738.14 L386.69,738.29 L387.03,738.44 L387.36,738.58 L387.7,738.73 L388.03,738.87 L388.37,739.01 L388.71,739.16 L389.04,739.3 L389.38,739.45 L389.72,739.59 L390.05,739.73 L390.39,739.87 L390.73,740.02 L391.06,740.16 L391.4,740.3 L391.74,740.44 L392.07,740.58 L392.41,740.72 L392.75,740.86 L393.08,741 L393.42,741.13 L393.76,741.27 L394.09,741.41 L394.43,741.54 L394.77,741.68 L395.1,741.82 L395.44,741.95 L395.78,742.08 L396.11,742.22 L396.45,742.35 L396.79,742.49 L397.12,742.62 L397.46,742.76 L397.8,742.89 L398.13,743.03 L398.47,743.16 L398.81,743.29 L399.14,743.42 L399.48,743.56 L399.82,743.69 L400.15,743.82 L400.49,743.95 L400.83,744.08 L401.16,744.21 L401.5,744.34 L401.84,744.46 L402.17,744.59 L402.51,744.71 L402.85,744.84 L403.18,744.96 L403.52,745.08 L403.86,745.2 L404.19,745.32 L404.53,745.44 L404.87,745.55 L405.2,745.67 L405.54,745.78 L405.88,745.89 L406.21,746.01 L406.55,746.12 L406.89,746.23 L407.22,746.35 L407.56,746.46 L407.9,746.58 L408.23,746.69 L408.57,746.8 L408.91,746.92 L409.24,747.03 L409.58,747.14 L409.92,747.25 L410.25,747.36 L410.59,747.47 L410.93,747.57 L411.26,747.68 L411.6,747.78 L411.93,747.88 L412.27,747.98 L412.61,748.08 L412.94,748.17 L413.28,748.26 L413.62,748.35 L413.95,748.44 L414.29,748.52 L414.63,748.6 L414.96,748.68 L415.3,748.75 L415.64,748.82 L415.97,748.88 L416.31,748.94 L416.65,749 L416.98,749.06 L417.32,749.11 L417.66,749.17 L417.99,749.22 L418.33,749.26 L418.67,749.31 L419,749.35 L419.34,749.39 L419.68,749.43 L420.01,749.47 L420.35,749.5 L420.69,749.5 L421.02,749.5 L421.36,749.5 L421.7,749.5 L422.03,749.5 L422.37,749.5 L422.71,749.5 L423.04,749.5 L423.38,749.5 L423.72,749.5 L424.05,749.5 L424.39,749.5 L424.73,749.5 L425.06,749.5 L425.4,749.5 L425.74,749.5 L426.07,749.5 L426.41,749.5 L426.75,749.5 L427.08,749.5 L427.42,749.5 L427.76,749.5 L428.09,749.5 L428.43,749.5 L428.77,749.5 L429.1,749.5 L429.44,749.5 L429.78,749.5 L430.11,749.5 L430.45,749.5 L430.79,749.5 L431.12,749.5 L431.46,749.5 L431.8,749.5 L432.13,749.5 L432.47,749.5 L432.81,749.5 L433.14,749.5 L433.48,749.5 L433.82,749.5 L434.15,749.5 L434.49,749.5 L434.83,749.5 L435.16,749.5 L435.5,749.5 L435.83,749.5 L436.17,749.5 L436.51,749.5 L436.84,749.5 L437.18,749.5 L437.52,749.5 L437.85,749.5 L438.19,749.5 L438.53,749.5 L438.86,749.5 L439.2,749.5 L439.54,749.5 L439.87,749.5 L440.21,749.5 L440.55,749.5 L440.88,749.5 L441.22,749.5 L441.56,749.5 L441.89,749.5 L442.23,749.5 L442.57,749.5 L442.9,749.5 L443.24,749.5 L443.58,749.5 L443.91,749.5 L444.25,749.5 L444.59,749.5 L444.92,749.5 L445.26,749.5 L445.6,749.5 L445.93,749.5 L446.27,749.5 L446.61,749.5 L446.94,749.5 L447.28,749.5 L447.62,749.5 L552.6,749.5" stroke="#000"/>
<path d="M237.65,477.43 L237.76,477.56 L237.86,477.71 L237.97,477.9 L238.07,478.12 L238.18,478.36 L238.28,478.62 L238.39,478.91 L238.49,479.22 L238.6,479.54 L238.7,479.89 L238.81,480.25 L238.91,480.62 L239.02,481.01 L239.12,481.41 L239.23,481.82 L239.33,482.23 L239.44,482.65 L239.54,483.09 L239.65,483.57 L239.75,484.12 L239.86,484.72 L239.97,485.36 L240.07,486.03 L240.18,486.74 L240.28,487.47 L240.39,488.22 L240.49,488.97 L240.6,489.72 L240.7,490.47 L240.81,491.21 L240.91,491.92 L241.02,492.61 L241.12,493.28 L241.23,493.93 L241.33,494.58 L241.44,495.22 L241.54,495.86 L241.65,496.49 L241.75,497.14 L241.86,497.79 L241.97,498.45 L242.07,499.12 L242.18,499.81 L242.28,500.52 L242.39,501.26 L242.49,502.02 L242.6,502.81 L242.7,503.65 L242.81,504.53 L242.91,505.45 L243.02,506.4 L243.12,507.38 L243.23,508.37 L243.33,509.37 L243.44,510.37 L243.54,511.37 L243.65,512.35 L243.75,513.33 L243.86,514.32 L243.96,515.3 L244.07,516.3 L244.18,517.3 L244.28,518.3 L244.39,519.32 L244.49,520.34 L244.6,521.38 L244.7,522.42 L244.81,523.48 L244.91,524.55 L245.02,525.63 L245.12,526.71 L245.23,527.81 L245.33,528.92 L245.44,530.03 L245.54,531.15 L245.65,532.28 L245.75,533.43 L245.86,534.6 L245.96,535.78 L246.07,536.97 L246.17,538.16 L246.28,539.34 L246.39,540.5 L246.49,541.65 L246.6,542.76 L246.7,543.85 L246.81,544.92 L246.91,545.98 L247.02,547.04 L247.12,548.1 L247.23,549.18 L247.33,550.29 L247.44,551.43 L247.54,552.61 L247.65,553.85 L247.75,555.12 L247.86,556.41 L247.96,557.71 L248.07,559.02 L248.17,560.31 L248.28,561.58 L248.39,562.81 L248.49,564 L248.6,565.14 L248.7,566.24 L248.81,567.31 L248.91,568.36 L249.02,569.4 L249.12,570.41 L249.23,571.41 L249.33,572.4 L249.44,573.37 L249.54,574.34 L249.65,575.3 L249.75,576.25 L249.86,577.2 L249.96,578.16 L250.07,579.11 L250.17,580.07 L250.28,581.03 L250.38,582 L250.49,582.98 L250.6,583.97 L250.7,584.98 L250.81,586.02 L250.91,587.08 L251.02,588.16 L251.12,589.24 L251.23,590.31 L251.33,591.36 L251.44,592.39 L251.54,593.37 L251.65,594.31 L251.75,595.19 L251.86,596.03 L251.96,596.85 L252.07,597.65 L252.17,598.44 L252.28,599.2 L252.38,599.95 L252.49,600.68 L252.59,601.4 L252.7,602.11 L252.81,602.81 L252.91,603.5 L253.02,604.18 L253.12,604.86 L253.23,605.54 L253.33,606.22 L253.44,606.89 L253.54,607.57 L253.65,608.25 L253.75,608.94 L253.86,609.64 L253.96,610.34 L254.07,611.05 L254.17,611.77 L254.28,612.5 L254.38,613.22 L254.49,613.95 L254.59,614.68 L254.7,615.41 L254.81,616.14 L254.91,616.87 L255.02,617.6 L255.12,618.33 L255.23,619.05 L255.33,619.77 L255.44,620.49 L255.54,621.21 L255.65,621.92 L255.75,622.62 L255.86,623.32 L255.96,624.01 L256.07,624.69 L256.17,625.37 L256.28,626.03 L256.38,626.69 L256.49,627.33 L256.59,627.97 L256.7,628.59 L256.8,629.21 L256.91,629.83 L257.02,630.43 L257.12,631.03 L257.23,631.63 L257.33,632.22 L257.44,632.8 L257.54,633.38 L257.65,633.96 L257.75,634.53 L257.86,635.1 L257.96,635.66 L258.07,636.22 L258.17,636.78 L258.28,637.34 L258.38,637.89 L258.49,638.44 L258.59,638.99 L258.7,639.54 L258.8,640.09 L258.91,640.64 L259.02,641.19 L259.12,641.73 L259.23,642.28 L259.33,642.82 L259.44,643.35 L259.54,643.89 L259.65,644.41 L259.75,644.93 L259.86,645.44 L259.96,645.95 L260.07,646.44 L260.17,646.93 L260.28,647.42 L260.38,647.9 L260.49,648.38 L260.59,648.85 L260.7,649.31 L260.8,649.77 L260.91,650.22 L261.01,650.67 L261.12,651.11 L261.23,651.54 L261.33,651.96 L261.44,652.37 L261.54,652.78 L261.65,653.18 L261.75,653.58 L261.86,653.97 L261.96,654.36 L262.07,654.75 L262.17,655.15 L262.28,655.55 L262.38,655.95 L262.49,656.37 L262.59,656.79 L262.7,657.21 L262.8,657.64 L262.91,658.07 L263.01,658.51 L263.12,658.95 L263.22,659.39 L263.33,659.83 L263.44,660.27 L263.54,660.72 L263.65,661.15 L263.75,661.59 L263.86,662.03 L263.96,662.48 L264.07,662.93 L264.17,663.39 L264.28,663.86 L264.38,664.32 L264.49,664.77 L264.59,665.22 L264.7,665.65 L264.8,666.06 L264.91,666.46 L265.01,666.83 L265.12,667.18 L265.22,667.52 L265.33,667.84 L265.44,668.16 L265.54,668.48 L265.65,668.78 L265.75,669.08 L265.86,669.37 L265.96,669.66 L266.07,669.94 L266.17,670.22 L266.28,670.49 L266.38,670.75 L266.49,671.01 L266.59,671.27 L266.7,671.53 L266.8,671.77 L266.91,672.02 L267.01,672.27 L267.12,672.51 L267.22,672.75 L267.33,672.98 L267.43,673.22 L267.54,673.45 L267.65,673.68 L267.75,673.91 L267.86,674.14 L267.96,674.36 L268.07,674.59 L268.17,674.8 L268.28,675.02 L268.38,675.23 L268.49,675.44 L268.59,675.65 L268.7,675.85 L268.8,676.05 L268.91,676.25 L269.01,676.44 L269.12,676.63 L269.22,676.82 L269.33,677 L269.43,677.18 L269.54,677.35 L269.64,677.44 L269.75,677.5 L269.86,677.55 L269.96,677.61 L270.07,677.67 L270.17,677.73 L270.28,677.79 L270.38,677.84 L270.49,677.9 L270.59,677.96 L270.7,678.02 L270.8,678.08 L270.91,678.13 L271.01,678.19 L271.12,678.25 L271.22,678.31 L271.33,678.37 L271.43,678.43 L271.54,678.48 L271.64,678.54 L271.75,678.6 L271.86,678.66 L271.96,678.72 L272.07,678.78 L272.17,678.84 L272.28,678.89 L272.38,678.95 L272.49,679.01 L272.59,679.07 L272.7,679.13 L272.8,679.19 L272.91,679.25 L273.01,679.3 L273.12,679.36 L273.22,679.42 L273.33,679.48 L273.43,679.54 L273.54,679.6 L273.64,679.66 L273.75,679.72 L273.85,679.78 L273.96,679.84 L274.07,679.89 L274.17,679.95 L274.28,680.01 L274.38,680.07 L274.49,680.13 L274.59,680.19 L274.7,680.25 L274.8,680.31 L274.91,680.37 L275.01,680.43 L275.12,680.49 L275.22,680.55 L275.33,680.61 L275.43,680.67 L275.54,680.73 L275.64,680.78 L275.75,680.84 L275.85,680.9 L275.96,680.96 L276.06,681.02 L276.17,681.08 L276.28,681.14 L276.38,681.2 L276.49,681.26 L276.59,681.32 L276.7,681.38 L276.8,681.44 L276.91,681.5 L277.01,681.56 L277.12,681.62 L277.22,681.68 L277.33,681.74 L277.43,681.8 L277.54,681.86 L277.64,681.92 L277.75,681.98 L277.85,682.04 L277.96,682.1 L278.06,682.16 L278.17,682.22 L278.28,682.28 L278.38,682.34 L278.49,682.4 L278.59,682.46 L278.7,682.52 L278.8,682.58 L278.91,682.64 L279.01,682.71 L279.12,682.77 L279.22,682.83 L279.33,682.89 L279.43,682.95 L279.54,683.01 L279.64,683.07 L279.98,683.26 L280.32,683.46 L280.65,683.65 L280.99,683.85 L281.33,684.05 L281.66,684.25 L282,684.45 L282.34,684.65 L282.67,684.84 L283.01,685.04 L283.35,685.25 L283.68,685.45 L284.02,685.65 L284.36,685.85 L284.69,686.05 L285.03,686.25 L285.37,686.45 L285.7,686.65 L286.04,686.85 L286.38,687.05 L286.71,687.26 L287.05,687.46 L287.39,687.66 L287.72,687.85 L288.06,688.05 L288.4,688.25 L288.73,688.45 L289.07,688.65 L289.41,688.84 L289.74,689.04 L290.08,689.23 L290.42,689.43 L290.75,689.62 L291.09,689.81 L291.43,690.01 L291.76,690.2 L292.1,690.39 L292.43,690.58 L292.77,690.78 L293.11,690.97 L293.44,691.16 L293.78,691.35 L294.12,691.54 L294.45,691.73 L294.79,691.92 L295.13,692.11 L295.46,692.3 L295.8,692.49 L296.14,692.68 L296.47,692.87 L296.81,693.05 L297.15,693.24 L297.48,693.43 L297.82,693.62 L298.16,693.8 L298.49,693.99 L298.83,694.18 L299.17,694.36 L299.5,694.55 L299.84,694.73 L300.18,694.92 L300.51,695.1 L300.85,695.29 L301.19,695.47 L301.52,695.65 L301.86,695.84 L302.2,696.02 L302.53,696.2 L302.87,696.37 L303.21,696.55 L303.54,696.73 L303.88,696.91 L304.22,697.08 L304.55,697.26 L304.89,697.44 L305.23,697.61 L305.56,697.79 L305.9,697.97 L306.24,698.14 L306.57,698.32 L306.91,698.5 L307.25,698.68 L307.58,698.85 L307.92,699.03 L308.26,699.21 L308.59,699.39 L308.93,699.57 L309.27,699.75 L309.6,699.94 L309.94,700.12 L310.28,700.3 L310.61,700.49 L310.95,700.68 L311.29,700.87 L311.62,701.06 L311.96,701.25 L312.3,701.44 L312.63,701.64 L312.97,701.83 L313.31,702.03 L313.64,702.23 L313.98,702.42 L314.32,702.62 L314.65,702.82 L314.99,703.02 L315.33,703.23 L315.66,703.43 L316,703.63 L316.33,703.83 L316.67,704.03 L317.01,704.24 L317.34,704.44 L317.68,704.64 L318.02,704.85 L318.35,705.05 L318.69,705.25 L319.03,705.45 L319.36,705.65 L319.7,705.85 L320.04,706.05 L320.37,706.25 L320.71,706.45 L321.05,706.64 L321.38,706.84 L321.72,707.03 L322.06,707.23 L322.39,707.42 L322.73,707.61 L323.07,707.8 L323.4,708 L323.74,708.19 L324.08,708.38 L324.41,708.57 L324.75,708.76 L325.09,708.95 L325.42,709.14 L325.76,709.33 L326.1,709.52 L326.43,709.71 L326.77,709.9 L327.11,710.09 L327.44,710.28 L327.78,710.46 L328.12,710.65 L328.45,710.84 L328.79,711.03 L329.13,711.22 L329.46,711.4 L329.8,711.59 L330.14,711.78 L330.47,711.97 L330.81,712.15 L331.15,712.34 L331.48,712.53 L331.82,712.71 L332.16,712.9 L332.49,713.09 L332.83,713.27 L333.17,713.46 L333.5,713.65 L333.84,713.83 L334.18,714.02 L334.51,714.21 L334.85,714.39 L335.19,714.58 L335.52,714.76 L335.86,714.95 L336.2,715.13 L336.53,715.32 L336.87,715.5 L337.21,715.69 L337.54,715.87 L337.88,716.06 L338.22,716.24 L338.55,716.43 L338.89,716.61 L339.23,716.79 L339.56,716.98 L339.9,717.16 L340.23,717.34 L340.57,717.53 L340.91,717.71 L341.24,717.89 L341.58,718.08 L341.92,718.26 L342.25,718.44 L342.59,718.62 L342.93,718.81 L343.26,718.99 L343.6,719.17 L343.94,719.35 L344.27,719.53 L344.61,719.72 L344.95,719.9 L345.28,720.08 L345.62,720.26 L345.96,720.44 L346.29,720.63 L346.63,720.81 L346.97,720.99 L347.3,721.17 L347.64,721.35 L347.98,721.53 L348.31,721.71 L348.65,721.89 L348.99,722.07 L349.32,722.25 L349.66,722.43 L350,722.61 L350.33,722.79 L350.67,722.96 L351.01,723.14 L351.34,723.32 L351.68,723.5 L352.02,723.67 L352.35,723.85 L352.69,724.03 L353.03,724.2 L353.36,724.38 L353.7,724.55 L354.04,724.73 L354.37,724.9 L354.71,725.08 L355.05,725.25 L355.38,725.43 L355.72,725.6 L356.06,725.77 L356.39,725.95 L356.73,726.12 L357.07,726.3 L357.4,726.47 L357.74,726.64 L358.08,726.81 L358.41,726.99 L358.75,727.16 L359.09,727.33 L359.42,727.5 L359.76,727.67 L360.1,727.84 L360.43,728.01 L360.77,728.18 L361.11,728.34 L361.44,728.51 L361.78,728.67 L362.12,728.84 L362.45,729 L362.79,729.17 L363.13,729.33 L363.46,729.49 L363.8,729.65 L364.13,729.81 L364.47,729.97 L364.81,730.13 L365.14,730.28 L365.48,730.44 L365.82,730.59 L366.15,730.75 L366.49,730.9 L366.83,731.05 L367.16,731.2 L367.5,731.35 L367.84,731.5 L368.17,731.65 L368.51,731.8 L368.85,731.95 L369.18,732.1 L369.52,732.25 L369.86,732.4 L370.19,732.55 L370.53,732.7 L370.87,732.85 L371.2,732.99 L371.54,733.14 L371.88,733.29 L372.21,733.44 L372.55,733.59 L372.89,733.74 L373.22,733.89 L373.56,734.04 L373.9,734.19 L374.23,734.34 L374.57,734.49 L374.91,734.65 L375.24,734.8 L375.58,734.95 L375.92,735.1 L376.25,735.26 L376.59,735.41 L376.93,735.57 L377.26,735.72 L377.6,735.87 L377.94,736.03 L378.27,736.18 L378.61,736.34 L378.95,736.49 L379.28,736.64 L379.62,736.8 L379.96,736.95 L380.29,737.1 L380.63,737.25 L380.97,737.41 L381.3,737.56 L381.64,737.71 L381.98,737.86 L382.31,738.01 L382.65,738.16 L382.99,738.31 L383.32,738.45 L383.66,738.6 L384,738.75 L384.33,738.89 L384.67,739.04 L385.01,739.18 L385.34,739.32 L385.68,739.47 L386.02,739.61 L386.35,739.75 L386.69,739.89 L387.03,740.03 L387.36,740.18 L387.7,740.32 L388.03,740.46 L388.37,740.6 L388.71,740.74 L389.04,740.87 L389.38,741.01 L389.72,741.15 L390.05,741.29 L390.39,741.42 L390.73,741.56 L391.06,741.7 L391.4,741.83 L391.74,741.97 L392.07,742.1 L392.41,742.24 L392.75,742.37 L393.08,742.5 L393.42,742.64 L393.76,742.77 L394.09,742.9 L394.43,743.03 L394.77,743.16 L395.1,743.29 L395.44,743.42 L395.78,743.55 L396.11,743.68 L396.45,743.81 L396.79,743.94 L397.12,744.08 L397.46,744.21 L397.8,744.34 L398.13,744.47 L398.47,744.6 L398.81,744.73 L399.14,744.86 L399.48,744.99 L399.82,745.11 L400.15,745.24 L400.49,745.37 L400.83,745.49 L401.16,745.62 L401.5,745.74 L401.84,745.87 L402.17,745.99 L402.51,746.11 L402.85,746.23 L403.18,746.34 L403.52,746.46 L403.86,746.57 L404.19,746.68 L404.53,746.79 L404.87,746.9 L405.2,747.01 L405.54,747.11 L405.88,747.22 L406.21,747.32 L406.55,747.43 L406.89,747.53 L407.22,747.64 L407.56,747.75 L407.9,747.86 L408.23,747.97 L408.57,748.08 L408.91,748.18 L409.24,748.29 L409.58,748.39 L409.92,748.49 L410.25,748.58 L410.59,748.68 L410.93,748.77 L411.26,748.85 L411.6,748.94 L411.93,749.01 L412.27,749.08 L412.61,749.15 L412.94,749.21 L413.28,749.26 L413.62,749.31 L413.95,749.35 L414.29,749.38 L414.63,749.41 L414.96,749.44 L415.3,749.46 L415.64,749.48 L415.97,749.49" stroke="#000" stroke-dasharray="0.01 4.72" stroke-linecap="round" stroke-width="2.45"/>
<path d="M237.65,662.7 L237.76,662.73 L237.86,662.76 L237.97,662.79 L238.07,662.83 L238.18,662.86 L238.28,662.89 L238.39,662.93 L238.49,662.96 L238.6,662.99 L238.7,663.03 L238.81,663.06 L238.91,663.1 L239.02,663.13 L239.12,663.17 L239.23,663.2 L239.33,663.23 L239.44,663.27 L239.54,663.3 L239.65,663.34 L239.75,663.37 L239.86,663.41 L239.97,663.44 L240.07,663.48 L240.18,663.52 L240.28,663.55 L240.39,663.59 L240.49,663.62 L240.6,663.66 L240.7,663.7 L240.81,663.73 L240.91,663.77 L241.02,663.8 L241.12,663.84 L241.23,663.88 L241.33,663.92 L241.44,663.95 L241.54,663.99 L241.65,664.03 L241.75,664.06 L241.86,664.1 L241.97,664.14 L242.07,664.18 L242.18,664.21 L242.28,664.25 L242.39,664.29 L242.49,664.33 L242.6,664.37 L242.7,664.41 L242.81,664.44 L242.91,664.48 L243.02,664.52 L243.12,664.56 L243.23,664.6 L243.33,664.64 L243.44,664.68 L243.54,664.72 L243.65,664.76 L243.75,664.8 L243.86,664.84 L243.96,664.88 L244.07,664.91 L244.18,664.95 L244.28,664.99 L244.39,665.03 L244.49,665.08 L244.6,665.12 L244.7,665.16 L244.81,665.2 L244.91,665.24 L245.02,665.28 L245.12,665.32 L245.23,665.36 L245.33,665.4 L245.44,665.44 L245.54,665.48 L245.65,665.52 L245.75,665.57 L245.86,665.61 L245.96,665.65 L246.07,665.69 L246.17,665.73 L246.28,665.77 L246.39,665.82 L246.49,665.86 L246.6,665.9 L246.7,665.94 L246.81,665.99 L246.91,666.03 L247.02,666.07 L247.12,666.11 L247.23,666.16 L247.33,666.2 L247.44,666.24 L247.54,666.29 L247.65,666.33 L247.75,666.37 L247.86,666.42 L247.96,666.46 L248.07,666.5 L248.17,666.55 L248.28,666.59 L248.39,666.63 L248.49,666.68 L248.6,666.72 L248.7,666.77 L248.81,666.81 L248.91,666.86 L249.02,666.9 L249.12,666.95 L249.23,666.99 L249.33,667.04 L249.44,667.08 L249.54,667.13 L249.65,667.18 L249.75,667.22 L249.86,667.27 L249.96,667.32 L250.07,667.36 L250.17,667.41 L250.28,667.46 L250.38,667.51 L250.49,667.55 L250.6,667.6 L250.7,667.65 L250.81,667.7 L250.91,667.75 L251.02,667.79 L251.12,667.84 L251.23,667.89 L251.33,667.94 L251.44,667.99 L251.54,668.04 L251.65,668.09 L251.75,668.14 L251.86,668.19 L251.96,668.24 L252.07,668.29 L252.17,668.34 L252.28,668.39 L252.38,668.44 L252.49,668.49 L252.59,668.54 L252.7,668.59 L252.81,668.64 L252.91,668.69 L253.02,668.74 L253.12,668.79 L253.23,668.84 L253.33,668.89 L253.44,668.95 L253.54,669 L253.65,669.05 L253.75,669.1 L253.86,669.15 L253.96,669.2 L254.07,669.25 L254.17,669.31 L254.28,669.36 L254.38,669.41 L254.49,669.46 L254.59,669.51 L254.7,669.57 L254.81,669.62 L254.91,669.67 L255.02,669.72 L255.12,669.78 L255.23,669.83 L255.33,669.88 L255.44,669.93 L255.54,669.99 L255.65,670.04 L255.75,670.09 L255.86,670.15 L255.96,670.2 L256.07,670.25 L256.17,670.3 L256.28,670.36 L256.38,670.41 L256.49,670.46 L256.59,670.52 L256.7,670.57 L256.8,670.62 L256.91,670.68 L257.02,670.73 L257.12,670.78 L257.23,670.84 L257.33,670.89 L257.44,670.94 L257.54,671 L257.65,671.05 L257.75,671.1 L257.86,671.16 L257.96,671.21 L258.07,671.26 L258.17,671.31 L258.28,671.37 L258.38,671.42 L258.49,671.47 L258.59,671.53 L258.7,671.58 L258.8,671.63 L258.91,671.69 L259.02,671.74 L259.12,671.79 L259.23,671.85 L259.33,671.9 L259.44,671.95 L259.54,672.01 L259.65,672.06 L259.75,672.12 L259.86,672.17 L259.96,672.23 L260.07,672.28 L260.17,672.33 L260.28,672.39 L260.38,672.44 L260.49,672.5 L260.59,672.55 L260.7,672.61 L260.8,672.66 L260.91,672.72 L261.01,672.77 L261.12,672.83 L261.23,672.88 L261.33,672.94 L261.44,672.99 L261.54,673.05 L261.65,673.1 L261.75,673.16 L261.86,673.21 L261.96,673.27 L262.07,673.33 L262.17,673.38 L262.28,673.44 L262.38,673.49 L262.49,673.55 L262.59,673.6 L262.7,673.66 L262.8,673.72 L262.91,673.77 L263.01,673.83 L263.12,673.89 L263.22,673.94 L263.33,674 L263.44,674.05 L263.54,674.11 L263.65,674.17 L263.75,674.22 L263.86,674.28 L263.96,674.34 L264.07,674.39 L264.17,674.45 L264.28,674.51 L264.38,674.56 L264.49,674.62 L264.59,674.68 L264.7,674.74 L264.8,674.79 L264.91,674.85 L265.01,674.91 L265.12,674.96 L265.22,675.02 L265.33,675.08 L265.44,675.13 L265.54,675.19 L265.65,675.25 L265.75,675.31 L265.86,675.36 L265.96,675.42 L266.07,675.48 L266.17,675.54 L266.28,675.59 L266.38,675.65 L266.49,675.71 L266.59,675.77 L266.7,675.82 L266.8,675.88 L266.91,675.94 L267.01,676 L267.12,676.05 L267.22,676.11 L267.33,676.17 L267.43,676.23 L267.54,676.28 L267.65,676.34 L267.75,676.4 L267.86,676.46 L267.96,676.51 L268.07,676.57 L268.17,676.63 L268.28,676.69 L268.38,676.75 L268.49,676.8 L268.59,676.86 L268.7,676.92 L268.8,676.98 L268.91,677.03 L269.01,677.09 L269.12,677.15 L269.22,677.21 L269.33,677.26 L269.43,677.32 L269.54,677.38 L269.64,677.44 L269.75,677.5 L269.86,677.55 L269.96,677.61 L270.07,677.67 L270.17,677.73 L270.28,677.79 L270.38,677.84 L270.49,677.9 L270.59,677.96 L270.7,678.02 L270.8,678.08 L270.91,678.13 L271.01,678.19 L271.12,678.25 L271.22,678.31 L271.33,678.37 L271.43,678.43 L271.54,678.48 L271.64,678.54 L271.75,678.6 L271.86,678.66 L271.96,678.72 L272.07,678.78 L272.17,678.84 L272.28,678.89 L272.38,678.95 L272.49,679.01 L272.59,679.07 L272.7,679.13 L272.8,679.19 L272.91,679.25 L273.01,679.3 L273.12,679.36 L273.22,679.42 L273.33,679.48 L273.43,679.54 L273.54,679.6 L273.64,679.66 L273.75,679.72 L273.85,679.78 L273.96,679.84 L274.07,679.89 L274.17,679.95 L274.28,680.01 L274.38,680.07 L274.49,680.13 L274.59,680.19 L274.7,680.25 L274.8,680.31 L274.91,680.37 L275.01,680.43 L275.12,680.49 L275.22,680.55 L275.33,680.61 L275.43,680.67 L275.54,680.73 L275.64,680.78 L275.75,680.84 L275.85,680.9 L275.96,680.96 L276.06,681.02 L276.17,681.08 L276.28,681.14 L276.38,681.2 L276.49,681.26 L276.59,681.32 L276.7,681.38 L276.8,681.44 L276.91,681.5 L277.01,681.56 L277.12,681.62 L277.22,681.68 L277.33,681.74 L277.43,681.8 L277.54,681.86 L277.64,681.92 L277.75,681.98 L277.85,682.04 L277.96,682.1 L278.06,682.16 L278.17,682.22 L278.28,682.28 L278.38,682.34 L278.49,682.4 L278.59,682.46 L278.7,682.52 L278.8,682.58 L278.91,682.64 L279.01,682.71 L279.12,682.77 L279.22,682.83 L279.33,682.89 L279.43,682.95 L279.54,683.01 L279.64,683.07 L279.98,683.26 L280.32,683.46 L280.65,683.65 L280.99,683.85 L281.33,684.05 L281.66,684.25 L282,684.45 L282.34,684.65 L282.67,684.84 L283.01,685.04 L283.35,685.25 L283.68,685.45 L284.02,685.65 L284.36,685.85 L284.69,686.05 L285.03,686.25 L285.37,686.45 L285.7,686.65 L286.04,686.85 L286.38,687.05 L286.71,687.26 L287.05,687.46 L287.39,687.66 L287.72,687.85 L288.06,688.05 L288.4,688.25 L288.73,688.45 L289.07,688.65 L289.41,688.84 L289.74,689.04 L290.08,689.23 L290.42,689.43 L290.75,689.62 L291.09,689.81 L291.43,690.01 L291.76,690.2 L292.1,690.39 L292.43,690.58 L292.77,690.78 L293.11,690.97 L293.44,691.16 L293.78,691.35 L294.12,691.54 L294.45,691.73 L294.79,691.92 L295.13,692.11 L295.46,692.3 L295.8,692.49 L296.14,692.68 L296.47,692.87 L296.81,693.05 L297.15,693.24 L297.48,693.43 L297.82,693.62 L298.16,693.8 L298.49,693.99 L298.83,694.18 L299.17,694.36 L299.5,694.55 L299.84,694.73 L300.18,694.92 L300.51,695.1 L300.85,695.29 L301.19,695.47 L301.52,695.65 L301.86,695.84 L302.2,696.02 L302.53,696.2 L302.87,696.37 L303.21,696.55 L303.54,696.73 L303.88,696.91 L304.22,697.08 L304.55,697.26 L304.89,697.44 L305.23,697.61 L305.56,697.79 L305.9,697.97 L306.24,698.14 L306.57,698.32 L306.91,698.5 L307.25,698.68 L307.58,698.85 L307.92,699.03 L308.26,699.21 L308.59,699.39 L308.93,699.57 L309.27,699.75 L309.6,699.94 L309.94,700.12 L310.28,700.3 L310.61,700.49 L310.95,700.68 L311.29,700.87 L311.62,701.06 L311.96,701.25 L312.3,701.44 L312.63,701.64 L312.97,701.83 L313.31,702.03 L313.64,702.23 L313.98,702.42 L314.32,702.62 L314.65,702.82 L314.99,703.02 L315.33,703.23 L315.66,703.43 L316,703.63 L316.33,703.83 L316.67,704.03 L317.01,704.24 L317.34,704.44 L317.68,704.64 L318.02,704.85 L318.35,705.05 L318.69,705.25 L319.03,705.45 L319.36,705.65 L319.7,705.85 L320.04,706.05 L320.37,706.25 L320.71,706.45 L321.05,706.64 L321.38,706.84 L321.72,707.03 L322.06,707.23 L322.39,707.42 L322.73,707.61 L323.07,707.8 L323.4,708 L323.74,708.19 L324.08,708.38 L324.41,708.57 L324.75,708.76 L325.09,708.95 L325.42,709.14 L325.76,709.33 L326.1,709.52 L326.43,709.71 L326.77,709.9 L327.11,710.09 L327.44,710.28 L327.78,710.46 L328.12,710.65 L328.45,710.84 L328.79,711.03 L329.13,711.22 L329.46,711.4 L329.8,711.59 L330.14,711.78 L330.47,711.97 L330.81,712.15 L331.15,712.34 L331.48,712.53 L331.82,712.71 L332.16,712.9 L332.49,713.09 L332.83,713.27 L333.17,713.46 L333.5,713.65 L333.84,713.83 L334.18,714.02 L334.51,714.21 L334.85,714.39 L335.19,714.58 L335.52,714.76 L335.86,714.95 L336.2,715.13 L336.53,715.32 L336.87,715.5 L337.21,715.69 L337.54,715.87 L337.88,716.06 L338.22,716.24 L338.55,716.43 L338.89,716.61 L339.23,716.79 L339.56,716.98 L339.9,717.16 L340.23,717.34 L340.57,717.53 L340.91,717.71 L341.24,717.89 L341.58,718.08 L341.92,718.26 L342.25,718.44 L342.59,718.62 L342.93,718.81 L343.26,718.99 L343.6,719.17 L343.94,719.35 L344.27,719.53 L344.61,719.72 L344.95,719.9 L345.28,720.08 L345.62,720.26 L345.96,720.44 L346.29,720.63 L346.63,720.81 L346.97,720.99 L347.3,721.17 L347.64,721.35 L347.98,721.53 L348.31,721.71 L348.65,721.89 L348.99,722.07 L349.32,722.25 L349.66,722.43 L350,722.61 L350.33,722.79 L350.67,722.96 L351.01,723.14 L351.34,723.32 L351.68,723.5 L352.02,723.67 L352.35,723.85 L352.69,724.03 L353.03,724.2 L353.36,724.38 L353.7,724.55 L354.04,724.73 L354.37,724.9 L354.71,725.08 L355.05,725.25 L355.38,725.43 L355.72,725.6 L356.06,725.77 L356.39,725.95 L356.73,726.12 L357.07,726.3 L357.4,726.47 L357.74,726.64 L358.08,726.81 L358.41,726.99 L358.75,727.16 L359.09,727.33 L359.42,727.5 L359.76,727.67 L360.1,727.84 L360.43,728.01 L360.77,728.18 L361.11,728.34 L361.44,728.51 L361.78,728.67 L362.12,728.84 L362.45,729 L362.79,729.17 L363.13,729.33 L363.46,729.49 L363.8,729.65 L364.13,729.81 L364.47,729.97 L364.81,730.13 L365.14,730.28 L365.48,730.44 L365.82,730.59 L366.15,730.75 L366.49,730.9 L366.83,731.05 L367.16,731.2 L367.5,731.35 L367.84,731.5 L368.17,731.65 L368.51,731.8 L368.85,731.95 L369.18,732.1 L369.52,732.25 L369.86,732.4 L370.19,732.55 L370.53,732.7 L370.87,732.85 L371.2,732.99 L371.54,733.14 L371.88,733.29 L372.21,733.44 L372.55,733.59 L372.89,733.74 L373.22,733.89 L373.56,734.04 L373.9,734.19 L374.23,734.34 L374.57,734.49 L374.91,734.65 L375.24,734.8 L375.58,734.95 L375.92,735.1 L376.25,735.26 L376.59,735.41 L376.93,735.57 L377.26,735.72 L377.6,735.87 L377.94,736.03 L378.27,736.18 L378.61,736.34 L378.95,736.49 L379.28,736.64 L379.62,736.8 L379.96,736.95 L380.29,737.1 L380.63,737.25 L380.97,737.41 L381.3,737.56 L381.64,737.71 L381.98,737.86 L382.31,738.01 L382.65,738.16 L382.99,738.31 L383.32,738.45 L383.66,738.6 L384,738.75 L384.33,738.89 L384.67,739.04 L385.01,739.18 L385.34,739.32 L385.68,739.47 L386.02,739.61 L386.35,739.75 L386.69,739.89 L387.03,740.03 L387.36,740.18 L387.7,740.32 L388.03,740.46 L388.37,740.6 L388.71,740.74 L389.04,740.87 L389.38,741.01 L389.72,741.15 L390.05,741.29 L390.39,741.42 L390.73,741.56 L391.06,741.7 L391.4,741.83 L391.74,741.97 L392.07,742.1 L392.41,742.24 L392.75,742.37 L393.08,742.5 L393.42,742.64 L393.76,742.77 L394.09,742.9 L394.43,743.03 L394.77,743.16 L395.1,743.29 L395.44,743.42 L395.78,743.55 L396.11,743.68 L396.45,743.81 L396.79,743.94 L397.12,744.08 L397.46,744.21 L397.8,744.34 L398.13,744.47 L398.47,744.6 L398.81,744.73 L399.14,744.86 L399.48,744.99 L399.82,745.11 L400.15,745.24 L400.49,745.37 L400.83,745.49 L401.16,745.62 L401.5,745.74 L401.84,745.87 L402.17,745.99 L402.51,746.11 L402.85,746.23 L403.18,746.34 L403.52,746.46 L403.86,746.57 L404.19,746.68 L404.53,746.79 L404.87,746.9 L405.2,747.01 L405.54,747.11 L405.88,747.22 L406.21,747.32 L406.55,747.43 L406.89,747.53 L407.22,747.64 L407.56,747.75 L407.9,747.86 L408.23,747.97 L408.57,748.08 L408.91,748.18 L409.24,748.29 L409.58,748.39 L409.92,748.49 L410.25,748.58 L410.59,748.68 L410.93,748.77 L411.26,748.85 L411.6,748.94 L411.93,749.01 L412.27,749.08 L412.61,749.15 L412.94,749.21 L413.28,749.26 L413.62,749.31 L413.95,749.35 L414.29,749.38 L414.63,749.41 L414.96,749.44 L415.3,749.46 L415.64,749.48 L415.97,749.49" stroke="#00f" stroke-dasharray="0.01 4.72" stroke-linecap="round" stroke-width="2.45"/>
<path d="M237.65,564.23 L237.76,564.33 L237.86,564.45 L237.97,564.61 L238.07,564.79 L238.18,565 L238.28,565.23 L238.39,565.48 L238.49,565.75 L238.6,566.05 L238.7,566.36 L238.81,566.69 L238.91,567.03 L239.02,567.38 L239.12,567.74 L239.23,568.12 L239.33,568.5 L239.44,568.89 L239.54,569.28 L239.65,569.74 L239.75,570.25 L239.86,570.81 L239.97,571.41 L240.07,572.05 L240.18,572.73 L240.28,573.42 L240.39,574.13 L240.49,574.85 L240.6,575.56 L240.7,576.28 L240.81,576.98 L240.91,577.65 L241.02,578.31 L241.12,578.94 L241.23,579.55 L241.33,580.16 L241.44,580.77 L241.54,581.37 L241.65,581.97 L241.75,582.57 L241.86,583.18 L241.97,583.81 L242.07,584.44 L242.18,585.1 L242.28,585.77 L242.39,586.47 L242.49,587.19 L242.6,587.95 L242.7,588.75 L242.81,589.59 L242.91,590.47 L243.02,591.38 L243.12,592.32 L243.23,593.27 L243.33,594.23 L243.44,595.19 L243.54,596.15 L243.65,597.1 L243.75,598.04 L243.86,598.98 L243.96,599.93 L244.07,600.88 L244.18,601.84 L244.28,602.81 L244.39,603.79 L244.49,604.77 L244.6,605.76 L244.7,606.77 L244.81,607.78 L244.91,608.81 L245.02,609.85 L245.12,610.89 L245.23,611.95 L245.33,613.01 L245.44,614.09 L245.54,615.17 L245.65,616.25 L245.75,617.36 L245.86,618.49 L245.96,619.63 L246.07,620.78 L246.17,621.92 L246.28,623.06 L246.39,624.19 L246.49,625.29 L246.6,626.36 L246.7,627.41 L246.81,628.43 L246.91,629.45 L247.02,630.46 L247.12,631.49 L247.23,632.52 L247.33,633.59 L247.44,634.68 L247.54,635.83 L247.65,637.02 L247.75,638.24 L247.86,639.49 L247.96,640.75 L248.07,642.01 L248.17,643.26 L248.28,644.49 L248.39,645.68 L248.49,646.83 L248.6,647.92 L248.7,648.97 L248.81,650 L248.91,651.01 L249.02,652 L249.12,652.97 L249.23,653.92 L249.33,654.86 L249.44,655.79 L249.54,656.71 L249.65,657.62 L249.75,658.53 L249.86,659.43 L249.96,660.34 L250.07,661.25 L250.17,662.15 L250.28,663.07 L250.38,663.99 L250.49,664.93 L250.6,665.87 L250.7,666.84 L250.81,667.83 L250.91,668.84 L251.02,669.87 L251.12,670.9 L251.23,671.92 L251.33,672.92 L251.44,673.9 L251.54,674.83 L251.65,675.72 L251.75,676.55 L251.86,677.34 L251.96,678.12 L252.07,678.87 L252.17,679.6 L252.28,680.31 L252.38,681.01 L252.49,681.69 L252.59,682.36 L252.7,683.02 L252.81,683.67 L252.91,684.31 L253.02,684.94 L253.12,685.57 L253.23,686.2 L253.33,686.82 L253.44,687.45 L253.54,688.08 L253.65,688.71 L253.75,689.34 L253.86,689.99 L253.96,690.64 L254.07,691.3 L254.17,691.97 L254.28,692.64 L254.38,693.31 L254.49,693.99 L254.59,694.66 L254.7,695.34 L254.81,696.02 L254.91,696.7 L255.02,697.37 L255.12,698.05 L255.23,698.72 L255.33,699.39 L255.44,700.06 L255.54,700.72 L255.65,701.38 L255.75,702.03 L255.86,702.67 L255.96,703.31 L256.07,703.94 L256.17,704.56 L256.28,705.17 L256.38,705.78 L256.49,706.37 L256.59,706.95 L256.7,707.52 L256.8,708.09 L256.91,708.65 L257.02,709.2 L257.12,709.75 L257.23,710.29 L257.33,710.83 L257.44,711.36 L257.54,711.89 L257.65,712.41 L257.75,712.93 L257.86,713.44 L257.96,713.95 L258.07,714.46 L258.17,714.97 L258.28,715.47 L258.38,715.97 L258.49,716.47 L258.59,716.97 L258.7,717.46 L258.8,717.96 L258.91,718.45 L259.02,718.95 L259.12,719.44 L259.23,719.93 L259.33,720.42 L259.44,720.9 L259.54,721.38 L259.65,721.85 L259.75,722.32 L259.86,722.77 L259.96,723.22 L260.07,723.66 L260.17,724.1 L260.28,724.53 L260.38,724.96 L260.49,725.38 L260.59,725.79 L260.7,726.2 L260.8,726.61 L260.91,727 L261.01,727.39 L261.12,727.78 L261.23,728.16 L261.33,728.52 L261.44,728.88 L261.54,729.23 L261.65,729.58 L261.75,729.92 L261.86,730.26 L261.96,730.59 L262.07,730.93 L262.17,731.27 L262.28,731.61 L262.38,731.96 L262.49,732.32 L262.59,732.68 L262.7,733.05 L262.8,733.42 L262.91,733.8 L263.01,734.18 L263.12,734.57 L263.22,734.95 L263.33,735.33 L263.44,735.72 L263.54,736.1 L263.65,736.49 L263.75,736.87 L263.86,737.25 L263.96,737.64 L264.07,738.04 L264.17,738.44 L264.28,738.85 L264.38,739.25 L264.49,739.65 L264.59,740.04 L264.7,740.41 L264.8,740.77 L264.91,741.11 L265.01,741.43 L265.12,741.72 L265.22,742 L265.33,742.27 L265.44,742.53 L265.54,742.79 L265.65,743.03 L265.75,743.28 L265.86,743.51 L265.96,743.74 L266.07,743.96 L266.17,744.18 L266.28,744.39 L266.38,744.6 L266.49,744.81 L266.59,745.01 L266.7,745.2 L266.8,745.39 L266.91,745.58 L267.01,745.77 L267.12,745.95 L267.22,746.13 L267.33,746.31 L267.43,746.49 L267.54,746.67 L267.65,746.84 L267.75,747.01 L267.86,747.18 L267.96,747.35 L268.07,747.51 L268.17,747.67 L268.28,747.83 L268.38,747.99 L268.49,748.14 L268.59,748.29 L268.7,748.43 L268.8,748.58 L268.91,748.72 L269.01,748.85 L269.12,748.98 L269.22,749.11 L269.33,749.24 L269.43,749.36 L269.54,749.47 L269.64,749.5 L269.75,749.5 L269.86,749.5 L269.96,749.5 L270.07,749.5 L270.17,749.5 L270.28,749.5 L270.38,749.5 L270.49,749.5 L270.59,749.5 L270.7,749.5 L270.8,749.5 L270.91,749.5 L271.01,749.5 L271.12,749.5 L271.22,749.5 L271.33,749.5 L271.43,749.5 L271.54,749.5 L271.64,749.5 L271.75,749.5 L271.86,749.5 L271.96,749.5 L272.07,749.5 L272.17,749.5 L272.28,749.5 L272.38,749.5 L272.49,749.5 L272.59,749.5 L272.7,749.5 L272.8,749.5 L272.91,749.5 L273.01,749.5 L273.12,749.5 L273.22,749.5 L273.33,749.5 L273.43,749.5 L273.54,749.5 L273.64,749.5 L273.75,749.5 L273.85,749.5 L273.96,749.5 L274.07,749.5 L274.17,749.5 L274.28,749.5 L274.38,749.5 L274.49,749.5 L274.59,749.5 L274.7,749.5 L274.8,749.5 L274.91,749.5 L275.01,749.5 L275.12,749.5 L275.22,749.5 L275.33,749.5 L275.43,749.5 L275.54,749.5 L275.64,749.5 L275.75,749.5 L275.85,749.5 L275.96,749.5 L276.06,749.5 L276.17,749.5 L276.28,749.5 L276.38,749.5 L276.49,749.5 L276.59,749.5 L276.7,749.5 L276.8,749.5 L276.91,749.5 L277.01,749.5 L277.12,749.5 L277.22,749.5 L277.33,749.5 L277.43,749.5 L277.54,749.5 L277.64,749.5 L277.75,749.5 L277.85,749.5 L277.96,749.5 L278.06,749.5 L278.17,749.5 L278.28,749.5 L278.38,749.5 L278.49,749.5 L278.59,749.5 L278.7,749.5 L278.8,749.5 L278.91,749.5 L279.01,749.5 L279.12,749.5 L279.22,749.5 L279.33,749.5 L279.43,749.5 L279.54,749.5 L279.64,749.5 L418.64,749.5" stroke="#f00" stroke-dasharray="0.01 4.72" stroke-linecap="round" stroke-width="2.45"/>
</g>
<path d="M419.9,749.5 H552.6" stroke="#000" stroke-width="2.0" fill="none"/>
<path d="M419.9,749.5 H551.7" stroke="#14006a" stroke-width="2.0" stroke-dasharray="0.7 4.06" stroke-dashoffset="0.48" fill="none"/>
<path d="M419.9,749.5 H551.7" stroke="#f00" stroke-width="2.0" stroke-dasharray="0.95 3.81" stroke-dashoffset="-0.22" fill="none"/>
<rect x="429.3" y="454.15" width="123.3" height="71.15" fill="#fff" stroke="#000" stroke-width="2.1"/>
<path d="M437.6,473.8 H466.5" stroke="#00f" stroke-width="1.05" stroke-dasharray="1.6 3.2 12.4 3.2" fill="none"/>
<path d="M437.6,492.55 H466.5" stroke="#f00" stroke-width="1.05" stroke-dasharray="6.75 1.1" fill="none"/>
<path d="M437.6,511.3 H466.5" stroke="#000" stroke-width="1.05" fill="none"/>
<text x="473" y="479.25" font-size="14.8">D</text>
<text x="484.5" y="472.65" font-size="13">*</text>
<path d="M490.1,468.15 h6 M493.1,465.55 v5.2" fill="none" stroke="#000" stroke-width="0.8"/>
<path d="M496.9,475.25 H510.8 M507.5,472.75 Q509.12,474.62 511.1,475.25 Q509.12,475.88 507.5,477.75" fill="none" stroke="#000" stroke-width="1.0" stroke-linecap="butt" stroke-linejoin="miter"/>
<text x="512" y="479.25" font-size="14.8">D</text>
<path d="M523.5,468.25 h6 M526.5,465.65 v5.2" fill="none" stroke="#000" stroke-width="0.8"/>
<text transform="translate(529.5,479.25) scale(1.3,1)" font-size="14.0" font-style="italic">π</text>
<text x="538.9" y="472.25" font-size="11.0">0</text>
<text x="473" y="497.35" font-size="14.8">D</text>
<text x="484.5" y="490.75" font-size="13">*</text>
<path d="M490.1,486.25 h6 M493.1,483.65 v5.2" fill="none" stroke="#000" stroke-width="0.8"/>
<path d="M496.9,493.35 H510.8 M507.5,490.85 Q509.12,492.73 511.1,493.35 Q509.12,493.98 507.5,495.85" fill="none" stroke="#000" stroke-width="1.0" stroke-linecap="butt" stroke-linejoin="miter"/>
<text x="512" y="497.35" font-size="14.8">D</text>
<text x="523.2" y="490.35" font-size="11.0">0</text>
<text transform="translate(529.5,497.35) scale(1.3,1)" font-size="14.0" font-style="italic">π</text>
<path d="M538,486.65 h6 M541,484.05 v5.2" fill="none" stroke="#000" stroke-width="0.8"/>
<text x="473.3" y="516.25" font-size="14.8" textLength="31.2" lengthAdjust="spacingAndGlyphs">Total</text>
<rect x="343.95" y="584.9" width="72.35" height="42.15" fill="#fff" stroke="#000" stroke-width="2.1"/>
<text transform="translate(356,611.9) scale(1.2,1)" font-size="20" font-style="italic">η</text>
<path d="M367.15,603.7 h10.8 M367.15,608 h10.8" stroke="#000" stroke-width="1.5" fill="none"/>
<text x="378.3" y="611.9" font-size="22.3">0<tspan dx="-0.35">.</tspan><tspan dx="-0.75">5</tspan></text>
<text x="247.8" y="738.1" font-size="18.7" letter-spacing="0.4">(b)</text>
<g transform="translate(204.1,669.9) rotate(-90)">
<text x="0" y="0" font-size="19.5">Γ</text>
<text x="5.0" y="3.5" font-size="13">D</text>
<text x="14.6" y="-3.9" font-size="9.5">*</text>
<path d="M19.8,0.35 H31.5 M28.6,-1.85 Q30.04,-0.2 31.8,0.35 Q30.04,0.9 28.6,2.55" fill="none" stroke="#000" stroke-width="0.9" stroke-linecap="butt" stroke-linejoin="miter"/>
<text x="32.6" y="3.5" font-size="13">D</text>
<text transform="translate(42.0,3.5) scale(1.25,1)" font-size="13" font-style="italic">π</text>
<text x="55.9" y="0" font-size="19.5">in</text>
<text x="76.9" y="0" font-size="19.5">10</text>
<text x="101.7" y="0" font-size="19.5" textLength="34.5" lengthAdjust="spacingAndGlyphs">KeV</text>
</g>
<text x="237.65" y="770.4" font-size="16.0" text-anchor="middle">0.0</text>
<text x="290.14" y="770.4" font-size="16.0" text-anchor="middle">0.25</text>
<text x="342.63" y="770.4" font-size="16.0" text-anchor="middle">0.5</text>
<text x="395.12" y="770.4" font-size="16.0" text-anchor="middle">0.75</text>
<text x="447.62" y="770.4" font-size="16.0" text-anchor="middle">1.0</text>
<text x="500.11" y="770.4" font-size="16.0" text-anchor="middle">1.25</text>
<text x="552.6" y="770.4" font-size="16.0" text-anchor="middle">1.5</text>
<text x="228.35" y="755" font-size="16.0" text-anchor="end">0</text>
<text x="228.35" y="695.95" font-size="16.0" text-anchor="end">2</text>
<text x="228.35" y="636.9" font-size="16.0" text-anchor="end">4</text>
<text x="228.35" y="577.85" font-size="16.0" text-anchor="end">6</text>
<text x="228.35" y="518.8" font-size="16.0" text-anchor="end">8</text>
<text x="228.35" y="459.75" font-size="16.0" text-anchor="end">10</text>
<text transform="translate(375.0,789.3) scale(1.12,1)" font-size="17.8" font-style="italic">ρ</text>
<text x="385.1" y="793.2" font-size="14">B</text>
<text x="393.8" y="789.4" font-size="19.5">/</text>
<text transform="translate(399.9,789.3) scale(1.12,1)" font-size="17.8" font-style="italic">ρ</text>
<text x="409.3" y="793.6" font-size="14">0</text>
</svg></div></body></html>
